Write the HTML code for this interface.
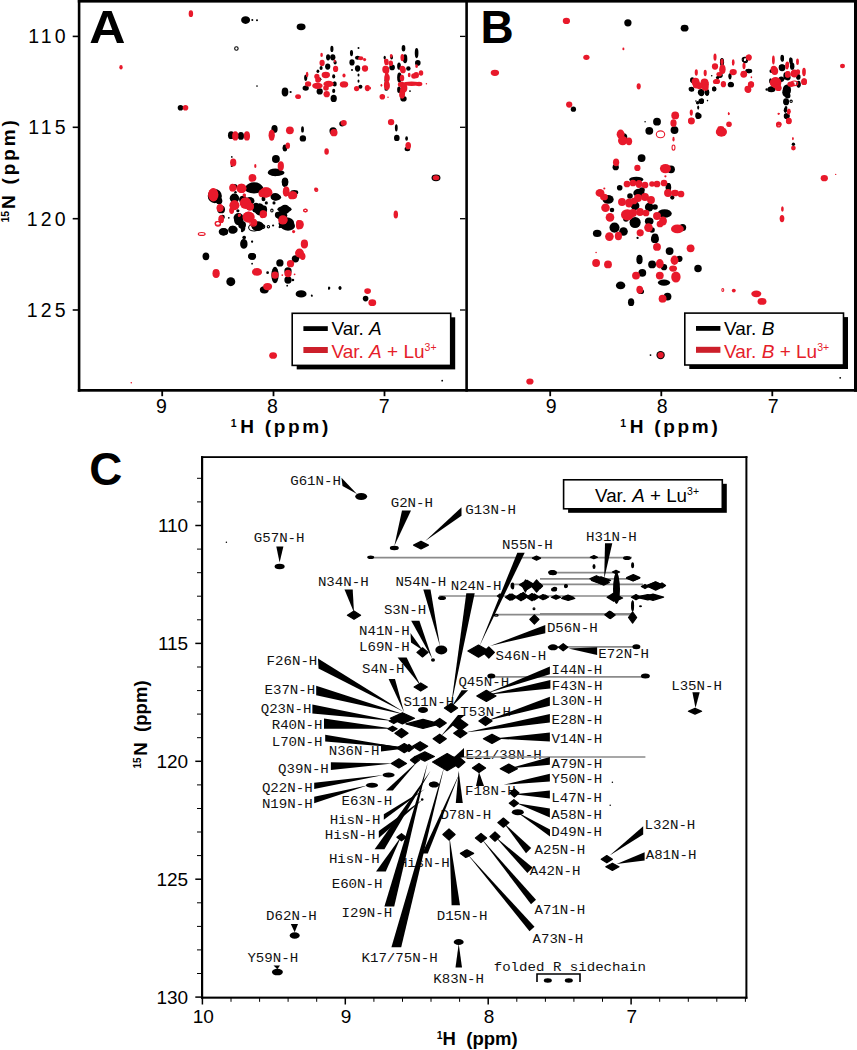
<!DOCTYPE html>
<html><head><meta charset="utf-8"><style>
html,body{margin:0;padding:0;background:#fff;}
body{width:857px;height:1050px;overflow:hidden;}
svg{display:block;}
</style></head><body>
<svg width="857" height="1050" viewBox="0 0 857 1050">
<rect width="857" height="1050" fill="#fff"/>
<rect x="77.8" y="0.0" width="779.2" height="2.6" fill="#000"/>
<rect x="77.8" y="0.0" width="2.6" height="391.7" fill="#000"/>
<rect x="77.8" y="389.0" width="779.2" height="2.7" fill="#000"/>
<rect x="465.3" y="0.0" width="2.6" height="391.7" fill="#000"/>
<rect x="854.0" y="0.0" width="3.0" height="391.7" fill="#000"/>
<line x1="72.7" y1="36.4" x2="78.5" y2="36.4" stroke="#000" stroke-width="1.6"/>
<line x1="460.0" y1="36.4" x2="465.5" y2="36.4" stroke="#000" stroke-width="1.3"/>
<line x1="72.7" y1="127.3" x2="78.5" y2="127.3" stroke="#000" stroke-width="1.6"/>
<line x1="460.0" y1="127.3" x2="465.5" y2="127.3" stroke="#000" stroke-width="1.3"/>
<line x1="72.7" y1="218.7" x2="78.5" y2="218.7" stroke="#000" stroke-width="1.6"/>
<line x1="460.0" y1="218.7" x2="465.5" y2="218.7" stroke="#000" stroke-width="1.3"/>
<line x1="72.7" y1="310.0" x2="78.5" y2="310.0" stroke="#000" stroke-width="1.6"/>
<line x1="460.0" y1="310.0" x2="465.5" y2="310.0" stroke="#000" stroke-width="1.3"/>
<line x1="162.2" y1="391.0" x2="162.2" y2="396.2" stroke="#000" stroke-width="1.8"/>
<line x1="273.5" y1="391.0" x2="273.5" y2="396.2" stroke="#000" stroke-width="1.8"/>
<line x1="384.5" y1="391.0" x2="384.5" y2="396.2" stroke="#000" stroke-width="1.8"/>
<line x1="550.2" y1="391.0" x2="550.2" y2="396.2" stroke="#000" stroke-width="1.8"/>
<line x1="661.3" y1="391.0" x2="661.3" y2="396.2" stroke="#000" stroke-width="1.8"/>
<line x1="772.3" y1="391.0" x2="772.3" y2="396.2" stroke="#000" stroke-width="1.8"/>
<text x="68.6" y="43.3" font-size="19.5" font-family="Liberation Sans" text-anchor="end" letter-spacing="3.1">110</text>
<text x="68.6" y="134.2" font-size="19.5" font-family="Liberation Sans" text-anchor="end" letter-spacing="3.1">115</text>
<text x="68.6" y="225.6" font-size="19.5" font-family="Liberation Sans" text-anchor="end" letter-spacing="3.1">120</text>
<text x="68.6" y="316.9" font-size="19.5" font-family="Liberation Sans" text-anchor="end" letter-spacing="3.1">125</text>
<text x="161.5" y="412.9" font-size="19.5" font-family="Liberation Sans" text-anchor="middle">9</text>
<text x="272.5" y="412.9" font-size="19.5" font-family="Liberation Sans" text-anchor="middle">8</text>
<text x="384.1" y="412.9" font-size="19.5" font-family="Liberation Sans" text-anchor="middle">7</text>
<text x="551.1" y="412.9" font-size="19.5" font-family="Liberation Sans" text-anchor="middle">9</text>
<text x="662.3" y="412.9" font-size="19.5" font-family="Liberation Sans" text-anchor="middle">8</text>
<text x="773.2" y="412.9" font-size="19.5" font-family="Liberation Sans" text-anchor="middle">7</text>
<text x="230.7" y="426.6" font-size="10.5" font-family="Liberation Sans" text-anchor="start" font-weight="bold">1</text>
<text x="240.3" y="432.7" font-size="19" font-family="Liberation Sans" text-anchor="start" font-weight="bold" letter-spacing="2.7">H (ppm)</text>
<text x="620.2" y="426.6" font-size="10.5" font-family="Liberation Sans" text-anchor="start" font-weight="bold">1</text>
<text x="629.8" y="432.7" font-size="19" font-family="Liberation Sans" text-anchor="start" font-weight="bold" letter-spacing="2.7">H (ppm)</text>
<g transform="translate(15.4,222.6) rotate(-90)">
<text x="0.0" y="-6.2" font-size="10.5" font-family="Liberation Sans" text-anchor="start" font-weight="bold">15</text>
<text x="13.5" y="0.0" font-size="19" font-family="Liberation Sans" text-anchor="start" font-weight="bold" letter-spacing="2.85">N (ppm)</text>
</g>
<text transform="translate(89.2,43.2) scale(1.09,1)" font-size="46" font-family="Liberation Sans" font-weight="bold">A</text>
<text x="480.5" y="43.0" font-size="46" font-family="Liberation Sans" text-anchor="start" font-weight="bold">B</text>
<rect x="296.7" y="317.3" width="158.5" height="52.1" fill="#000"/>
<rect x="292.2" y="313.3" width="158.5" height="52.1" fill="#fff" stroke="#000" stroke-width="1.6"/>
<rect x="303.4" y="326.2" width="24.4" height="4.8" fill="#000"/>
<rect x="303.4" y="347.0" width="24.4" height="6.0" fill="#cc1f2a"/>
<text x="331.4" y="335.3" font-size="19" font-family="Liberation Sans">Var. <tspan font-style="italic">A</tspan></text>
<text x="331.4" y="357.9" font-size="19" font-family="Liberation Sans" fill="#e5202a">Var. <tspan font-style="italic">A</tspan> + Lu<tspan font-size="10.5" dy="-6.8">3+</tspan></text>
<rect x="689.3" y="317.1" width="158.7" height="51.9" fill="#000"/>
<rect x="684.8" y="313.1" width="158.7" height="51.9" fill="#fff" stroke="#000" stroke-width="1.6"/>
<rect x="696.0" y="326.0" width="24.4" height="4.8" fill="#000"/>
<rect x="696.0" y="346.8" width="24.4" height="6.0" fill="#cc1f2a"/>
<text x="724.0" y="335.1" font-size="19" font-family="Liberation Sans">Var. <tspan font-style="italic">B</tspan></text>
<text x="724.0" y="357.7" font-size="19" font-family="Liberation Sans" fill="#e5202a">Var. <tspan font-style="italic">B</tspan> + Lu<tspan font-size="10.5" dy="-6.8">3+</tspan></text>
<rect x="201.0" y="456.2" width="2.2" height="542.5" fill="#000"/>
<rect x="201.0" y="456.2" width="546.4" height="1.8" fill="#000"/>
<rect x="745.4" y="456.2" width="2.0" height="542.5" fill="#000"/>
<rect x="201.0" y="996.6" width="546.4" height="2.1" fill="#000"/>
<line x1="197.0" y1="478.3" x2="201.5" y2="478.3" stroke="#000" stroke-width="1.0"/>
<line x1="197.0" y1="501.9" x2="201.5" y2="501.9" stroke="#000" stroke-width="1.0"/>
<line x1="195.3" y1="525.5" x2="201.5" y2="525.5" stroke="#000" stroke-width="1.5"/>
<line x1="197.0" y1="549.1" x2="201.5" y2="549.1" stroke="#000" stroke-width="1.0"/>
<line x1="197.0" y1="572.7" x2="201.5" y2="572.7" stroke="#000" stroke-width="1.0"/>
<line x1="197.0" y1="596.2" x2="201.5" y2="596.2" stroke="#000" stroke-width="1.0"/>
<line x1="197.0" y1="619.8" x2="201.5" y2="619.8" stroke="#000" stroke-width="1.0"/>
<line x1="195.3" y1="643.4" x2="201.5" y2="643.4" stroke="#000" stroke-width="1.5"/>
<line x1="197.0" y1="667.0" x2="201.5" y2="667.0" stroke="#000" stroke-width="1.0"/>
<line x1="197.0" y1="690.6" x2="201.5" y2="690.6" stroke="#000" stroke-width="1.0"/>
<line x1="197.0" y1="714.1" x2="201.5" y2="714.1" stroke="#000" stroke-width="1.0"/>
<line x1="197.0" y1="737.7" x2="201.5" y2="737.7" stroke="#000" stroke-width="1.0"/>
<line x1="195.3" y1="761.3" x2="201.5" y2="761.3" stroke="#000" stroke-width="1.5"/>
<line x1="197.0" y1="784.9" x2="201.5" y2="784.9" stroke="#000" stroke-width="1.0"/>
<line x1="197.0" y1="808.5" x2="201.5" y2="808.5" stroke="#000" stroke-width="1.0"/>
<line x1="197.0" y1="832.0" x2="201.5" y2="832.0" stroke="#000" stroke-width="1.0"/>
<line x1="197.0" y1="855.6" x2="201.5" y2="855.6" stroke="#000" stroke-width="1.0"/>
<line x1="195.3" y1="879.2" x2="201.5" y2="879.2" stroke="#000" stroke-width="1.5"/>
<line x1="197.0" y1="902.8" x2="201.5" y2="902.8" stroke="#000" stroke-width="1.0"/>
<line x1="197.0" y1="926.4" x2="201.5" y2="926.4" stroke="#000" stroke-width="1.0"/>
<line x1="197.0" y1="949.9" x2="201.5" y2="949.9" stroke="#000" stroke-width="1.0"/>
<line x1="197.0" y1="973.5" x2="201.5" y2="973.5" stroke="#000" stroke-width="1.0"/>
<line x1="195.3" y1="997.1" x2="201.5" y2="997.1" stroke="#000" stroke-width="1.5"/>
<text x="188.2" y="532.2" font-size="19" font-family="Liberation Sans" text-anchor="end">110</text>
<text x="188.2" y="650.1" font-size="19" font-family="Liberation Sans" text-anchor="end">115</text>
<text x="188.2" y="768.0" font-size="19" font-family="Liberation Sans" text-anchor="end">120</text>
<text x="188.2" y="885.9" font-size="19" font-family="Liberation Sans" text-anchor="end">125</text>
<text x="188.2" y="1003.8" font-size="19" font-family="Liberation Sans" text-anchor="end">130</text>
<line x1="202.4" y1="998.0" x2="202.4" y2="1004.5" stroke="#000" stroke-width="1.5"/>
<line x1="231.0" y1="998.0" x2="231.0" y2="1001.8" stroke="#000" stroke-width="1.0"/>
<line x1="259.6" y1="998.0" x2="259.6" y2="1001.8" stroke="#000" stroke-width="1.0"/>
<line x1="288.1" y1="998.0" x2="288.1" y2="1001.8" stroke="#000" stroke-width="1.0"/>
<line x1="316.7" y1="998.0" x2="316.7" y2="1001.8" stroke="#000" stroke-width="1.0"/>
<line x1="345.3" y1="998.0" x2="345.3" y2="1004.5" stroke="#000" stroke-width="1.5"/>
<line x1="373.9" y1="998.0" x2="373.9" y2="1001.8" stroke="#000" stroke-width="1.0"/>
<line x1="402.5" y1="998.0" x2="402.5" y2="1001.8" stroke="#000" stroke-width="1.0"/>
<line x1="431.0" y1="998.0" x2="431.0" y2="1001.8" stroke="#000" stroke-width="1.0"/>
<line x1="459.6" y1="998.0" x2="459.6" y2="1001.8" stroke="#000" stroke-width="1.0"/>
<line x1="488.2" y1="998.0" x2="488.2" y2="1004.5" stroke="#000" stroke-width="1.5"/>
<line x1="516.8" y1="998.0" x2="516.8" y2="1001.8" stroke="#000" stroke-width="1.0"/>
<line x1="545.4" y1="998.0" x2="545.4" y2="1001.8" stroke="#000" stroke-width="1.0"/>
<line x1="573.9" y1="998.0" x2="573.9" y2="1001.8" stroke="#000" stroke-width="1.0"/>
<line x1="602.5" y1="998.0" x2="602.5" y2="1001.8" stroke="#000" stroke-width="1.0"/>
<line x1="631.1" y1="998.0" x2="631.1" y2="1004.5" stroke="#000" stroke-width="1.5"/>
<line x1="659.7" y1="998.0" x2="659.7" y2="1001.8" stroke="#000" stroke-width="1.0"/>
<line x1="688.3" y1="998.0" x2="688.3" y2="1001.8" stroke="#000" stroke-width="1.0"/>
<line x1="716.8" y1="998.0" x2="716.8" y2="1001.8" stroke="#000" stroke-width="1.0"/>
<line x1="745.4" y1="998.0" x2="745.4" y2="1001.8" stroke="#000" stroke-width="1.0"/>
<text x="203.2" y="1022.5" font-size="19" font-family="Liberation Sans" text-anchor="middle">10</text>
<text x="346.1" y="1022.5" font-size="19" font-family="Liberation Sans" text-anchor="middle">9</text>
<text x="489.0" y="1022.5" font-size="19" font-family="Liberation Sans" text-anchor="middle">8</text>
<text x="631.9" y="1022.5" font-size="19" font-family="Liberation Sans" text-anchor="middle">7</text>
<text x="436.8" y="1038.7" font-size="10.5" font-family="Liberation Sans" text-anchor="start" font-weight="bold">1</text>
<text x="442.6" y="1045.1" font-size="18.5" font-family="Liberation Sans" text-anchor="start" font-weight="bold">H&#160;&#160;(ppm)</text>
<g transform="translate(147.2,768.5) rotate(-90)">
<text x="0.0" y="-6.5" font-size="10" font-family="Liberation Sans" text-anchor="start" font-weight="bold">15</text>
<text x="12.8" y="0.0" font-size="18.6" font-family="Liberation Sans" text-anchor="start" font-weight="bold">N&#160;&#160;(ppm)</text>
</g>
<text transform="translate(89.3,484.7) scale(1.04,1.03)" font-size="44" font-family="Liberation Sans" font-weight="bold">C</text>
<rect x="568.1" y="483.8" width="158.7" height="29.0" fill="#000"/>
<rect x="563.6" y="479.8" width="158.7" height="29.0" fill="#fff" stroke="#000" stroke-width="1.6"/>
<text x="595.0" y="501.8" font-size="18.8" font-family="Liberation Sans">Var. <tspan font-style="italic">A</tspan> + Lu<tspan font-size="10.5" dy="-6.6">3+</tspan></text>
<ellipse cx="245.6" cy="20.1" rx="4.48" ry="3.92" fill="#000"/>
<ellipse cx="252.3" cy="20" rx="1.01" ry="1.01" fill="#000"/>
<ellipse cx="257" cy="20.3" rx="1.01" ry="1.01" fill="#000"/>
<ellipse cx="301.1" cy="26.8" rx="4.48" ry="3.36" fill="#000"/>
<ellipse cx="257" cy="86" rx="0.84" ry="0.84" fill="#000"/>
<ellipse cx="285" cy="92" rx="3.36" ry="4.48" fill="#000"/>
<ellipse cx="290.6" cy="92" rx="1.12" ry="1.12" fill="#000"/>
<ellipse cx="180.5" cy="107.8" rx="2.80" ry="2.80" fill="#000"/>
<ellipse cx="331.9" cy="48.9" rx="1.57" ry="3.14" fill="#000"/>
<ellipse cx="328.1" cy="57.3" rx="2.07" ry="3.14" fill="#000"/>
<ellipse cx="332.8" cy="57.3" rx="2.63" ry="3.14" fill="#000"/>
<ellipse cx="335.1" cy="62.4" rx="1.57" ry="2.07" fill="#000"/>
<ellipse cx="327.7" cy="66.6" rx="2.63" ry="3.14" fill="#000"/>
<ellipse cx="321.1" cy="68" rx="1.57" ry="2.07" fill="#000"/>
<ellipse cx="317.9" cy="71.3" rx="1.40" ry="1.68" fill="#000"/>
<ellipse cx="333.7" cy="76.4" rx="1.57" ry="2.07" fill="#000"/>
<ellipse cx="305.7" cy="77.8" rx="1.57" ry="3.14" fill="#000"/>
<ellipse cx="318.8" cy="79.2" rx="2.63" ry="2.07" fill="#000"/>
<ellipse cx="334.7" cy="83.9" rx="2.07" ry="2.63" fill="#000"/>
<ellipse cx="305.7" cy="88.1" rx="3.14" ry="2.63" fill="#000"/>
<ellipse cx="319.7" cy="91.4" rx="3.14" ry="3.14" fill="#000"/>
<ellipse cx="333.7" cy="90.9" rx="1.57" ry="2.07" fill="#000"/>
<ellipse cx="333.7" cy="98.4" rx="3.14" ry="3.64" fill="#000"/>
<ellipse cx="351.5" cy="53.1" rx="1.57" ry="3.14" fill="#000"/>
<ellipse cx="358.5" cy="47.9" rx="1.01" ry="1.01" fill="#000"/>
<ellipse cx="352" cy="62.4" rx="2.63" ry="3.14" fill="#000"/>
<ellipse cx="357.6" cy="57.7" rx="2.63" ry="2.07" fill="#000"/>
<ellipse cx="357.6" cy="68.5" rx="2.63" ry="3.14" fill="#000"/>
<ellipse cx="352" cy="69.9" rx="1.01" ry="1.01" fill="#000"/>
<ellipse cx="358.5" cy="75" rx="1.01" ry="1.57" fill="#000"/>
<ellipse cx="358.5" cy="81.1" rx="1.01" ry="1.57" fill="#000"/>
<ellipse cx="360.4" cy="86.7" rx="2.07" ry="2.07" fill="#000"/>
<ellipse cx="403.5" cy="48.2" rx="1.85" ry="3.19" fill="#000"/>
<ellipse cx="416.6" cy="53.1" rx="1.85" ry="5.04" fill="#000"/>
<ellipse cx="405.1" cy="58.8" rx="2.24" ry="4.48" fill="#000"/>
<ellipse cx="384.7" cy="57.6" rx="1.12" ry="1.85" fill="#000"/>
<ellipse cx="391.6" cy="57.2" rx="1.40" ry="2.24" fill="#000"/>
<ellipse cx="417.8" cy="62.9" rx="2.80" ry="2.80" fill="#000"/>
<ellipse cx="392.1" cy="67.4" rx="2.80" ry="2.80" fill="#000"/>
<ellipse cx="399" cy="66.1" rx="1.85" ry="3.64" fill="#000"/>
<ellipse cx="408.4" cy="68.6" rx="2.24" ry="2.24" fill="#000"/>
<ellipse cx="399.4" cy="77.6" rx="2.24" ry="5.04" fill="#000"/>
<ellipse cx="386.3" cy="80.4" rx="1.85" ry="2.80" fill="#000"/>
<ellipse cx="399" cy="89.8" rx="1.85" ry="3.19" fill="#000"/>
<ellipse cx="410" cy="91.1" rx="0.90" ry="0.90" fill="#000"/>
<ellipse cx="403.5" cy="98.8" rx="3.19" ry="2.80" fill="#000"/>
<ellipse cx="386.3" cy="89" rx="1.85" ry="1.85" fill="#000"/>
<ellipse cx="231.1" cy="135.2" rx="3.14" ry="3.92" fill="#000"/>
<ellipse cx="240.9" cy="135.9" rx="3.14" ry="3.92" fill="#000"/>
<ellipse cx="274.5" cy="128.9" rx="3.14" ry="3.92" fill="#000"/>
<ellipse cx="285" cy="147.8" rx="2.24" ry="3.36" fill="#000"/>
<ellipse cx="231.8" cy="156.9" rx="0.84" ry="0.84" fill="#000"/>
<ellipse cx="275.9" cy="159" rx="3.92" ry="3.92" fill="#000"/>
<ellipse cx="275.2" cy="172.3" rx="7.06" ry="3.92" fill="#000"/>
<ellipse cx="231.8" cy="166" rx="1.12" ry="1.12" fill="#000"/>
<ellipse cx="285" cy="182.1" rx="3.14" ry="4.70" fill="#000"/>
<ellipse cx="254.2" cy="187" rx="7.84" ry="4.70" fill="#000"/>
<ellipse cx="234.6" cy="196.8" rx="3.14" ry="3.14" fill="#000"/>
<ellipse cx="233.9" cy="187.7" rx="2.24" ry="2.80" fill="#000"/>
<ellipse cx="234.6" cy="198.2" rx="3.92" ry="3.92" fill="#000"/>
<ellipse cx="243" cy="199.6" rx="3.92" ry="3.92" fill="#000"/>
<ellipse cx="275.2" cy="196.8" rx="4.70" ry="3.92" fill="#000"/>
<ellipse cx="219.2" cy="201" rx="3.14" ry="3.14" fill="#000"/>
<ellipse cx="255.6" cy="208" rx="3.92" ry="4.70" fill="#000"/>
<ellipse cx="264" cy="209.4" rx="3.14" ry="3.92" fill="#000"/>
<ellipse cx="285" cy="209.4" rx="4.70" ry="4.70" fill="#000"/>
<ellipse cx="278" cy="215" rx="3.14" ry="3.14" fill="#000"/>
<ellipse cx="238.8" cy="220.6" rx="4.70" ry="4.70" fill="#000"/>
<ellipse cx="243" cy="228.3" rx="2.24" ry="3.14" fill="#000"/>
<ellipse cx="257.7" cy="226.2" rx="6.16" ry="4.70" fill="#000"/>
<ellipse cx="223.4" cy="231.8" rx="4.70" ry="3.92" fill="#000"/>
<ellipse cx="232.5" cy="229.7" rx="3.92" ry="3.92" fill="#000"/>
<ellipse cx="286.4" cy="223.4" rx="7.84" ry="6.16" fill="#000"/>
<ellipse cx="273.1" cy="225.5" rx="1.12" ry="1.12" fill="#000"/>
<ellipse cx="280.1" cy="226.9" rx="1.12" ry="1.12" fill="#000"/>
<ellipse cx="244.4" cy="237.4" rx="1.57" ry="1.57" fill="#000"/>
<ellipse cx="243.7" cy="243.7" rx="3.14" ry="4.70" fill="#000"/>
<ellipse cx="252.1" cy="241.6" rx="1.12" ry="1.12" fill="#000"/>
<ellipse cx="284.3" cy="183.5" rx="2.24" ry="3.14" fill="#000"/>
<ellipse cx="205.9" cy="256.3" rx="3.36" ry="3.92" fill="#000"/>
<ellipse cx="297.6" cy="257" rx="2.24" ry="2.24" fill="#000"/>
<ellipse cx="243.9" cy="244.1" rx="3.64" ry="4.48" fill="#000"/>
<ellipse cx="252.1" cy="256.3" rx="3.92" ry="3.36" fill="#000"/>
<ellipse cx="252.1" cy="241.6" rx="0.90" ry="0.90" fill="#000"/>
<ellipse cx="252.1" cy="263.7" rx="0.90" ry="0.90" fill="#000"/>
<ellipse cx="279.9" cy="262.9" rx="3.64" ry="3.64" fill="#000"/>
<ellipse cx="295.4" cy="258.8" rx="3.64" ry="3.64" fill="#000"/>
<ellipse cx="275" cy="275.1" rx="3.64" ry="8.23" fill="#000"/>
<ellipse cx="288" cy="271" rx="3.64" ry="3.64" fill="#000"/>
<ellipse cx="288" cy="280" rx="3.64" ry="3.64" fill="#000"/>
<ellipse cx="230.8" cy="281.7" rx="4.48" ry="4.48" fill="#000"/>
<ellipse cx="264.3" cy="289.8" rx="4.48" ry="3.64" fill="#000"/>
<ellipse cx="301.1" cy="293.9" rx="5.49" ry="3.64" fill="#000"/>
<ellipse cx="267.6" cy="272.7" rx="1.34" ry="1.34" fill="#000"/>
<ellipse cx="292.9" cy="280" rx="1.34" ry="1.34" fill="#000"/>
<ellipse cx="287.2" cy="285.7" rx="0.90" ry="0.90" fill="#000"/>
<ellipse cx="311.7" cy="295.5" rx="0.90" ry="0.90" fill="#000"/>
<ellipse cx="328.9" cy="288.2" rx="0.90" ry="1.68" fill="#000"/>
<ellipse cx="276.1" cy="172.8" rx="8.40" ry="3.14" fill="#000"/>
<ellipse cx="285.2" cy="181.9" rx="3.14" ry="3.92" fill="#000"/>
<ellipse cx="294.3" cy="192.4" rx="3.92" ry="2.35" fill="#000"/>
<ellipse cx="276.1" cy="197.3" rx="5.04" ry="3.14" fill="#000"/>
<ellipse cx="266.3" cy="202.9" rx="1.57" ry="1.57" fill="#000"/>
<ellipse cx="274" cy="202.9" rx="1.57" ry="1.57" fill="#000"/>
<ellipse cx="284.5" cy="209.2" rx="7.06" ry="3.14" fill="#000"/>
<ellipse cx="263.5" cy="209.2" rx="1.68" ry="1.68" fill="#000"/>
<ellipse cx="281.7" cy="215.5" rx="5.60" ry="4.70" fill="#000"/>
<ellipse cx="288" cy="226" rx="7.06" ry="4.70" fill="#000"/>
<ellipse cx="279.6" cy="227.1" rx="1.12" ry="1.12" fill="#000"/>
<ellipse cx="302.5" cy="129.4" rx="1.40" ry="3.19" fill="#000"/>
<ellipse cx="302.9" cy="138.4" rx="3.19" ry="3.19" fill="#000"/>
<ellipse cx="284.9" cy="148.2" rx="2.24" ry="3.08" fill="#000"/>
<ellipse cx="342.1" cy="123.7" rx="2.80" ry="2.80" fill="#000"/>
<ellipse cx="333.1" cy="131" rx="3.64" ry="3.64" fill="#000"/>
<ellipse cx="396.3" cy="127.8" rx="1.40" ry="3.64" fill="#000"/>
<ellipse cx="396.8" cy="137.9" rx="2.80" ry="3.19" fill="#000"/>
<ellipse cx="406.6" cy="138.4" rx="1.40" ry="2.24" fill="#000"/>
<ellipse cx="407.4" cy="149" rx="2.80" ry="2.24" fill="#000"/>
<ellipse cx="284.9" cy="181.7" rx="3.19" ry="3.64" fill="#000"/>
<ellipse cx="295.7" cy="258.8" rx="2.80" ry="2.80" fill="#000"/>
<ellipse cx="340" cy="288" rx="1.40" ry="1.68" fill="#000"/>
<ellipse cx="329.4" cy="288" rx="0.90" ry="1.34" fill="#000"/>
<ellipse cx="312" cy="296" rx="0.78" ry="0.78" fill="#000"/>
<ellipse cx="365.6" cy="298.6" rx="2.80" ry="2.80" fill="#000"/>
<ellipse cx="442.2" cy="380.7" rx="0.90" ry="0.90" fill="#000"/>
<ellipse cx="436" cy="177.8" rx="4.48" ry="3.36" fill="#000"/>
<ellipse cx="214.8" cy="196.1" rx="7.06" ry="7.06" fill="#000"/>
<ellipse cx="219" cy="201" rx="3.14" ry="3.14" fill="#000"/>
<ellipse cx="221.1" cy="209.4" rx="3.92" ry="3.92" fill="#000"/>
<ellipse cx="234.4" cy="198.2" rx="4.70" ry="4.70" fill="#000"/>
<ellipse cx="249.8" cy="201" rx="4.70" ry="3.92" fill="#000"/>
<ellipse cx="254" cy="188.4" rx="9.41" ry="5.04" fill="#000"/>
<ellipse cx="234.4" cy="186.3" rx="2.80" ry="2.35" fill="#000"/>
<ellipse cx="238.6" cy="217.8" rx="5.04" ry="4.70" fill="#000"/>
<ellipse cx="242.1" cy="224.8" rx="3.92" ry="3.92" fill="#000"/>
<ellipse cx="223.9" cy="231.8" rx="4.31" ry="3.53" fill="#000"/>
<ellipse cx="233" cy="229.7" rx="4.70" ry="3.92" fill="#000"/>
<ellipse cx="259.6" cy="209.4" rx="5.04" ry="6.16" fill="#000"/>
<ellipse cx="237.9" cy="210.8" rx="1.57" ry="1.57" fill="#000"/>
<ellipse cx="222.5" cy="217.1" rx="2.35" ry="2.35" fill="#000"/>
<ellipse cx="228.8" cy="217.8" rx="0.84" ry="0.84" fill="#000"/>
<ellipse cx="243.9" cy="237.4" rx="1.57" ry="1.57" fill="#000"/>
<ellipse cx="242.1" cy="231.1" rx="1.23" ry="1.23" fill="#000"/>
<ellipse cx="235.5" cy="192.3" rx="1.23" ry="1.23" fill="#000"/>
<ellipse cx="263.5" cy="198.9" rx="1.96" ry="2.35" fill="#000"/>
<ellipse cx="236.4" cy="48.5" rx="1.74" ry="1.74" fill="none" stroke="#000" stroke-width="1.1"/>
<ellipse cx="257.7" cy="226.2" rx="5.66" ry="4.20" fill="none" stroke="#000" stroke-width="1.1"/>
<ellipse cx="271.9" cy="210.6" rx="1.18" ry="1.46" fill="none" stroke="#000" stroke-width="1.1"/>
<ellipse cx="262.1" cy="226.7" rx="2.64" ry="1.85" fill="none" stroke="#000" stroke-width="1.1"/>
<ellipse cx="268.4" cy="226.7" rx="1.18" ry="1.18" fill="none" stroke="#000" stroke-width="1.1"/>
<ellipse cx="252.1" cy="256.3" rx="3.42" ry="2.86" fill="none" stroke="#000" stroke-width="1.1"/>
<ellipse cx="340" cy="288" rx="0.90" ry="1.18" fill="none" stroke="#000" stroke-width="1.1"/>
<ellipse cx="254" cy="227.6" rx="5.38" ry="3.42" fill="none" stroke="#000" stroke-width="1.1"/>
<ellipse cx="256.1" cy="205.2" rx="1.85" ry="1.85" fill="none" stroke="#000" stroke-width="1.1"/>
<ellipse cx="627.9" cy="22.8" rx="3.64" ry="3.64" fill="#000"/>
<ellipse cx="684.6" cy="28.2" rx="3.92" ry="3.36" fill="#000"/>
<ellipse cx="573.4" cy="109.2" rx="2.63" ry="2.63" fill="#000"/>
<ellipse cx="722" cy="62.3" rx="2.07" ry="4.20" fill="#000"/>
<ellipse cx="749.1" cy="71.1" rx="3.14" ry="2.07" fill="#000"/>
<ellipse cx="730" cy="76.3" rx="1.57" ry="3.14" fill="#000"/>
<ellipse cx="730.9" cy="84.7" rx="3.14" ry="2.63" fill="#000"/>
<ellipse cx="720.1" cy="75.3" rx="2.63" ry="2.63" fill="#000"/>
<ellipse cx="692.1" cy="81" rx="1.57" ry="2.07" fill="#000"/>
<ellipse cx="691.7" cy="89.8" rx="2.63" ry="2.07" fill="#000"/>
<ellipse cx="701.5" cy="93.1" rx="2.63" ry="3.14" fill="#000"/>
<ellipse cx="707.1" cy="92.6" rx="2.07" ry="3.14" fill="#000"/>
<ellipse cx="714.1" cy="88.9" rx="2.07" ry="2.63" fill="#000"/>
<ellipse cx="702" cy="101" rx="2.07" ry="2.63" fill="#000"/>
<ellipse cx="695.9" cy="101" rx="0.78" ry="0.78" fill="#000"/>
<ellipse cx="707.5" cy="100.6" rx="0.78" ry="0.78" fill="#000"/>
<ellipse cx="698.2" cy="107.6" rx="1.01" ry="2.07" fill="#000"/>
<ellipse cx="698.2" cy="114.1" rx="2.07" ry="1.12" fill="#000"/>
<ellipse cx="711.7" cy="75.8" rx="0.78" ry="0.78" fill="#000"/>
<ellipse cx="782.4" cy="58.5" rx="1.62" ry="3.19" fill="#000"/>
<ellipse cx="790.5" cy="60.1" rx="1.40" ry="2.80" fill="#000"/>
<ellipse cx="782" cy="67.1" rx="3.19" ry="2.80" fill="#000"/>
<ellipse cx="792.2" cy="66.2" rx="2.24" ry="3.64" fill="#000"/>
<ellipse cx="771.3" cy="71.1" rx="1.85" ry="1.85" fill="#000"/>
<ellipse cx="785.2" cy="76" rx="1.85" ry="3.64" fill="#000"/>
<ellipse cx="798.3" cy="76.9" rx="2.24" ry="2.80" fill="#000"/>
<ellipse cx="770.5" cy="81" rx="1.40" ry="2.80" fill="#000"/>
<ellipse cx="771.3" cy="89.5" rx="4.14" ry="2.80" fill="#000"/>
<ellipse cx="766.4" cy="89.5" rx="0.90" ry="1.34" fill="#000"/>
<ellipse cx="786.9" cy="90" rx="4.14" ry="5.60" fill="#000"/>
<ellipse cx="787.7" cy="95.7" rx="2.80" ry="2.80" fill="#000"/>
<ellipse cx="786" cy="101.4" rx="2.80" ry="3.19" fill="#000"/>
<ellipse cx="786" cy="107.9" rx="1.40" ry="1.85" fill="#000"/>
<ellipse cx="786" cy="116.1" rx="2.24" ry="2.80" fill="#000"/>
<ellipse cx="798.7" cy="85" rx="1.85" ry="2.80" fill="#000"/>
<ellipse cx="657" cy="121.7" rx="3.92" ry="3.92" fill="#000"/>
<ellipse cx="649.3" cy="130.8" rx="3.92" ry="3.92" fill="#000"/>
<ellipse cx="674.5" cy="130.1" rx="3.92" ry="3.92" fill="#000"/>
<ellipse cx="645.1" cy="121.7" rx="0.78" ry="0.78" fill="#000"/>
<ellipse cx="623.4" cy="137.1" rx="3.92" ry="3.92" fill="#000"/>
<ellipse cx="641.6" cy="158.1" rx="3.92" ry="3.92" fill="#000"/>
<ellipse cx="615.7" cy="167.2" rx="3.14" ry="3.14" fill="#000"/>
<ellipse cx="671" cy="169.3" rx="3.92" ry="3.92" fill="#000"/>
<ellipse cx="637.4" cy="179.8" rx="3.92" ry="2.35" fill="#000"/>
<ellipse cx="668.2" cy="185.4" rx="2.35" ry="2.35" fill="#000"/>
<ellipse cx="697.6" cy="115.4" rx="2.35" ry="3.14" fill="#000"/>
<ellipse cx="697.6" cy="102.8" rx="1.68" ry="1.68" fill="#000"/>
<ellipse cx="636.3" cy="179.5" rx="7.17" ry="2.80" fill="#000"/>
<ellipse cx="619.7" cy="187.8" rx="2.80" ry="2.80" fill="#000"/>
<ellipse cx="668.4" cy="187.2" rx="2.80" ry="4.31" fill="#000"/>
<ellipse cx="638.9" cy="193" rx="5.60" ry="4.31" fill="#000"/>
<ellipse cx="608.1" cy="199.4" rx="5.60" ry="4.31" fill="#000"/>
<ellipse cx="649.2" cy="207.1" rx="4.31" ry="4.31" fill="#000"/>
<ellipse cx="635.1" cy="205.8" rx="4.31" ry="4.31" fill="#000"/>
<ellipse cx="664.6" cy="213.5" rx="7.17" ry="4.31" fill="#000"/>
<ellipse cx="635.1" cy="222.5" rx="5.60" ry="5.60" fill="#000"/>
<ellipse cx="649.2" cy="221.2" rx="4.31" ry="3.58" fill="#000"/>
<ellipse cx="614.5" cy="227.6" rx="5.04" ry="5.04" fill="#000"/>
<ellipse cx="623.5" cy="231.5" rx="4.31" ry="4.31" fill="#000"/>
<ellipse cx="597.2" cy="233.4" rx="4.31" ry="3.58" fill="#000"/>
<ellipse cx="655" cy="237.9" rx="3.58" ry="4.31" fill="#000"/>
<ellipse cx="682.6" cy="227.6" rx="3.58" ry="3.58" fill="#000"/>
<ellipse cx="672.3" cy="197.5" rx="2.13" ry="2.13" fill="#000"/>
<ellipse cx="637.6" cy="237.9" rx="1.06" ry="1.06" fill="#000"/>
<ellipse cx="654.9" cy="239.2" rx="3.92" ry="3.92" fill="#000"/>
<ellipse cx="669.6" cy="251.1" rx="3.92" ry="3.92" fill="#000"/>
<ellipse cx="639.5" cy="259.5" rx="3.14" ry="4.70" fill="#000"/>
<ellipse cx="652.1" cy="264.4" rx="3.92" ry="3.92" fill="#000"/>
<ellipse cx="664" cy="267.2" rx="3.14" ry="3.14" fill="#000"/>
<ellipse cx="679.4" cy="258.8" rx="3.14" ry="3.14" fill="#000"/>
<ellipse cx="642.3" cy="272.8" rx="3.92" ry="3.92" fill="#000"/>
<ellipse cx="620.6" cy="285.4" rx="4.70" ry="3.92" fill="#000"/>
<ellipse cx="664" cy="282.6" rx="6.16" ry="3.14" fill="#000"/>
<ellipse cx="667.5" cy="296.6" rx="3.92" ry="3.92" fill="#000"/>
<ellipse cx="631.1" cy="302.2" rx="3.14" ry="3.92" fill="#000"/>
<ellipse cx="697.6" cy="268.6" rx="2.35" ry="3.14" fill="#000"/>
<ellipse cx="640.9" cy="291.7" rx="3.14" ry="2.35" fill="#000"/>
<ellipse cx="637.4" cy="237.8" rx="0.78" ry="0.78" fill="#000"/>
<ellipse cx="698" cy="116.7" rx="2.35" ry="2.35" fill="#000"/>
<ellipse cx="786.8" cy="116.7" rx="2.35" ry="2.35" fill="#000"/>
<ellipse cx="793.4" cy="144.3" rx="1.68" ry="1.68" fill="#000"/>
<ellipse cx="698" cy="268.5" rx="3.75" ry="3.75" fill="#000"/>
<ellipse cx="650.5" cy="355.1" rx="0.90" ry="0.90" fill="#000"/>
<ellipse cx="660.6" cy="355.1" rx="4.20" ry="4.20" fill="#000"/>
<ellipse cx="840.2" cy="377.8" rx="0.90" ry="0.90" fill="#000"/>
<ellipse cx="721.7" cy="61.2" rx="1.40" ry="2.80" fill="#000"/>
<ellipse cx="717.6" cy="77.6" rx="1.68" ry="1.68" fill="#000"/>
<ellipse cx="730.7" cy="84.1" rx="2.24" ry="2.24" fill="#000"/>
<ellipse cx="729.8" cy="76" rx="1.12" ry="2.24" fill="#000"/>
<ellipse cx="714.3" cy="89" rx="2.24" ry="2.24" fill="#000"/>
<ellipse cx="692.3" cy="80" rx="2.24" ry="2.80" fill="#000"/>
<ellipse cx="691.4" cy="89" rx="2.80" ry="2.24" fill="#000"/>
<ellipse cx="701.2" cy="92.3" rx="3.36" ry="3.36" fill="#000"/>
<ellipse cx="707" cy="92.3" rx="2.24" ry="3.36" fill="#000"/>
<ellipse cx="704.5" cy="84.1" rx="2.24" ry="2.24" fill="#000"/>
<ellipse cx="701.2" cy="101.3" rx="2.80" ry="2.80" fill="#000"/>
<ellipse cx="698.8" cy="116" rx="2.80" ry="2.80" fill="#000"/>
<ellipse cx="748.6" cy="71" rx="3.36" ry="2.24" fill="#000"/>
<ellipse cx="782.1" cy="58" rx="1.68" ry="3.36" fill="#000"/>
<ellipse cx="782.1" cy="67.8" rx="3.36" ry="3.36" fill="#000"/>
<ellipse cx="791.1" cy="61.2" rx="1.68" ry="3.36" fill="#000"/>
<ellipse cx="771.5" cy="89" rx="3.36" ry="2.80" fill="#000"/>
<ellipse cx="786.2" cy="92.3" rx="3.92" ry="5.04" fill="#000"/>
<ellipse cx="786.2" cy="102" rx="2.80" ry="3.36" fill="#000"/>
<ellipse cx="798.5" cy="84.1" rx="2.24" ry="3.36" fill="#000"/>
<ellipse cx="787.8" cy="77.6" rx="2.80" ry="2.80" fill="#000"/>
<ellipse cx="781.3" cy="79.2" rx="2.80" ry="2.80" fill="#000"/>
<ellipse cx="787" cy="116" rx="2.80" ry="2.80" fill="#000"/>
<ellipse cx="785.4" cy="110.3" rx="1.68" ry="2.80" fill="#000"/>
<ellipse cx="642" cy="190" rx="2.80" ry="2.80" fill="#000"/>
<ellipse cx="630" cy="196" rx="2.80" ry="2.80" fill="#000"/>
<ellipse cx="655" cy="207" rx="2.80" ry="2.80" fill="#000"/>
<ellipse cx="626" cy="219" rx="2.80" ry="2.80" fill="#000"/>
<ellipse cx="652" cy="230" rx="2.80" ry="2.80" fill="#000"/>
<ellipse cx="612" cy="210" rx="2.24" ry="2.24" fill="#000"/>
<ellipse cx="745.4" cy="60" rx="2.13" ry="2.64" fill="none" stroke="#000" stroke-width="1.1"/>
<ellipse cx="744.5" cy="59.6" rx="2.30" ry="2.30" fill="none" stroke="#000" stroke-width="1.1"/>
<ellipse cx="791.1" cy="101.3" rx="1.18" ry="1.18" fill="none" stroke="#000" stroke-width="1.1"/>
<ellipse cx="190.9" cy="13.7" rx="2.24" ry="3.36" fill="#e8192b"/>
<ellipse cx="298" cy="96.6" rx="2.80" ry="2.24" fill="#e8192b"/>
<ellipse cx="121" cy="67.2" rx="1.68" ry="2.24" fill="#e8192b"/>
<ellipse cx="185.5" cy="107.8" rx="2.80" ry="2.80" fill="#e8192b"/>
<ellipse cx="321.6" cy="54.9" rx="1.29" ry="2.07" fill="#e8192b"/>
<ellipse cx="322.1" cy="62.9" rx="2.63" ry="3.14" fill="#e8192b"/>
<ellipse cx="335.6" cy="68.9" rx="2.63" ry="3.14" fill="#e8192b"/>
<ellipse cx="334.7" cy="61" rx="1.01" ry="1.57" fill="#e8192b"/>
<ellipse cx="307.1" cy="74.5" rx="1.29" ry="2.63" fill="#e8192b"/>
<ellipse cx="316.9" cy="76.4" rx="2.63" ry="2.63" fill="#e8192b"/>
<ellipse cx="325.8" cy="75" rx="4.20" ry="3.14" fill="#e8192b"/>
<ellipse cx="344" cy="75.5" rx="1.57" ry="2.07" fill="#e8192b"/>
<ellipse cx="308.1" cy="83.9" rx="3.14" ry="2.63" fill="#e8192b"/>
<ellipse cx="317.4" cy="85.8" rx="5.21" ry="3.14" fill="#e8192b"/>
<ellipse cx="328.6" cy="83.9" rx="5.21" ry="3.14" fill="#e8192b"/>
<ellipse cx="344" cy="84.4" rx="4.20" ry="3.14" fill="#e8192b"/>
<ellipse cx="326.7" cy="94.2" rx="3.14" ry="3.14" fill="#e8192b"/>
<ellipse cx="298.3" cy="97" rx="2.63" ry="2.07" fill="#e8192b"/>
<ellipse cx="360.8" cy="58.2" rx="2.63" ry="2.07" fill="#e8192b"/>
<ellipse cx="364.6" cy="59.6" rx="1.57" ry="1.57" fill="#e8192b"/>
<ellipse cx="365" cy="68.5" rx="3.14" ry="3.14" fill="#e8192b"/>
<ellipse cx="356.6" cy="88.6" rx="2.63" ry="2.63" fill="#e8192b"/>
<ellipse cx="367.4" cy="88.1" rx="2.63" ry="3.14" fill="#e8192b"/>
<ellipse cx="391.2" cy="55.9" rx="1.40" ry="1.85" fill="#e8192b"/>
<ellipse cx="385.1" cy="60.8" rx="1.12" ry="1.85" fill="#e8192b"/>
<ellipse cx="390.8" cy="63.3" rx="2.24" ry="2.80" fill="#e8192b"/>
<ellipse cx="402.3" cy="57.6" rx="1.85" ry="3.64" fill="#e8192b"/>
<ellipse cx="416.6" cy="66.1" rx="1.40" ry="1.85" fill="#e8192b"/>
<ellipse cx="385.1" cy="69.4" rx="2.80" ry="3.64" fill="#e8192b"/>
<ellipse cx="402.3" cy="68.6" rx="2.80" ry="2.80" fill="#e8192b"/>
<ellipse cx="409.2" cy="75.1" rx="1.40" ry="2.24" fill="#e8192b"/>
<ellipse cx="416.2" cy="75.1" rx="2.80" ry="3.19" fill="#e8192b"/>
<ellipse cx="386.7" cy="75.1" rx="1.85" ry="2.80" fill="#e8192b"/>
<ellipse cx="386.7" cy="84.9" rx="2.80" ry="4.48" fill="#e8192b"/>
<ellipse cx="381.4" cy="85.3" rx="0.90" ry="1.34" fill="#e8192b"/>
<ellipse cx="401.5" cy="84.5" rx="3.64" ry="2.80" fill="#e8192b"/>
<ellipse cx="411.7" cy="83.7" rx="8.96" ry="2.24" fill="#e8192b"/>
<ellipse cx="426.4" cy="83.7" rx="0.73" ry="0.73" fill="#e8192b"/>
<ellipse cx="382.3" cy="96.8" rx="2.80" ry="2.80" fill="#e8192b"/>
<ellipse cx="388" cy="97.2" rx="0.73" ry="0.73" fill="#e8192b"/>
<ellipse cx="402.3" cy="93.1" rx="2.80" ry="5.49" fill="#e8192b"/>
<ellipse cx="370.4" cy="88.2" rx="0.56" ry="1.40" fill="#e8192b"/>
<ellipse cx="235.3" cy="135.9" rx="3.14" ry="4.70" fill="#e8192b"/>
<ellipse cx="246.9" cy="135.9" rx="3.14" ry="4.70" fill="#e8192b"/>
<ellipse cx="271.7" cy="135.2" rx="3.14" ry="5.60" fill="#e8192b"/>
<ellipse cx="289.9" cy="130.3" rx="3.92" ry="3.92" fill="#e8192b"/>
<ellipse cx="287.8" cy="145.7" rx="2.24" ry="3.14" fill="#e8192b"/>
<ellipse cx="233.2" cy="162.5" rx="3.14" ry="3.92" fill="#e8192b"/>
<ellipse cx="255.3" cy="166" rx="1.12" ry="1.96" fill="#e8192b"/>
<ellipse cx="280.8" cy="166" rx="3.14" ry="4.70" fill="#e8192b"/>
<ellipse cx="252.5" cy="177.9" rx="3.92" ry="3.92" fill="#e8192b"/>
<ellipse cx="232.5" cy="187.7" rx="3.14" ry="3.92" fill="#e8192b"/>
<ellipse cx="241.6" cy="188.4" rx="4.70" ry="4.70" fill="#e8192b"/>
<ellipse cx="265.4" cy="192.6" rx="5.60" ry="5.04" fill="#e8192b"/>
<ellipse cx="286.4" cy="191.2" rx="3.14" ry="4.70" fill="#e8192b"/>
<ellipse cx="292" cy="195.4" rx="3.92" ry="3.92" fill="#e8192b"/>
<ellipse cx="212.9" cy="194.7" rx="4.70" ry="6.16" fill="#e8192b"/>
<ellipse cx="244.4" cy="195.4" rx="1.57" ry="1.57" fill="#e8192b"/>
<ellipse cx="219.9" cy="208" rx="3.14" ry="3.92" fill="#e8192b"/>
<ellipse cx="234.6" cy="205.2" rx="3.92" ry="4.70" fill="#e8192b"/>
<ellipse cx="244.4" cy="202.4" rx="3.92" ry="4.70" fill="#e8192b"/>
<ellipse cx="250" cy="206.6" rx="3.92" ry="3.92" fill="#e8192b"/>
<ellipse cx="231.8" cy="210.1" rx="2.35" ry="3.14" fill="#e8192b"/>
<ellipse cx="248.6" cy="217.1" rx="6.16" ry="5.60" fill="#e8192b"/>
<ellipse cx="253.5" cy="222.7" rx="3.14" ry="3.14" fill="#e8192b"/>
<ellipse cx="221.3" cy="219.2" rx="2.35" ry="3.92" fill="#e8192b"/>
<ellipse cx="282.9" cy="219.9" rx="4.70" ry="4.70" fill="#e8192b"/>
<ellipse cx="298.3" cy="224.8" rx="2.35" ry="4.70" fill="#e8192b"/>
<ellipse cx="239.5" cy="215" rx="1.57" ry="1.57" fill="#e8192b"/>
<ellipse cx="266.3" cy="192.4" rx="6.16" ry="5.04" fill="#e8192b"/>
<ellipse cx="285.9" cy="191.7" rx="3.14" ry="5.04" fill="#e8192b"/>
<ellipse cx="292.9" cy="195.2" rx="4.31" ry="3.92" fill="#e8192b"/>
<ellipse cx="263.5" cy="214.1" rx="3.53" ry="3.92" fill="#e8192b"/>
<ellipse cx="283.1" cy="220.1" rx="4.31" ry="3.53" fill="#e8192b"/>
<ellipse cx="299.9" cy="224.6" rx="3.92" ry="4.70" fill="#e8192b"/>
<ellipse cx="293.6" cy="231.6" rx="1.57" ry="1.57" fill="#e8192b"/>
<ellipse cx="304.4" cy="244.1" rx="3.64" ry="4.48" fill="#e8192b"/>
<ellipse cx="299.5" cy="253.1" rx="4.48" ry="4.48" fill="#e8192b"/>
<ellipse cx="302.7" cy="256.3" rx="2.80" ry="3.64" fill="#e8192b"/>
<ellipse cx="290.5" cy="263.7" rx="3.64" ry="3.64" fill="#e8192b"/>
<ellipse cx="216.1" cy="273.5" rx="3.64" ry="4.48" fill="#e8192b"/>
<ellipse cx="257" cy="271.9" rx="5.04" ry="3.92" fill="#e8192b"/>
<ellipse cx="275" cy="275.1" rx="3.64" ry="3.64" fill="#e8192b"/>
<ellipse cx="288" cy="273.5" rx="3.64" ry="3.64" fill="#e8192b"/>
<ellipse cx="267.6" cy="286.6" rx="4.48" ry="3.64" fill="#e8192b"/>
<ellipse cx="282.3" cy="275.1" rx="0.90" ry="0.90" fill="#e8192b"/>
<ellipse cx="294.6" cy="274.3" rx="0.90" ry="0.90" fill="#e8192b"/>
<ellipse cx="343.7" cy="122.9" rx="3.08" ry="2.80" fill="#e8192b"/>
<ellipse cx="333.9" cy="132.7" rx="3.64" ry="3.64" fill="#e8192b"/>
<ellipse cx="326.6" cy="151.5" rx="2.24" ry="3.19" fill="#e8192b"/>
<ellipse cx="391.1" cy="122.1" rx="3.19" ry="3.19" fill="#e8192b"/>
<ellipse cx="408.2" cy="145.7" rx="2.80" ry="3.64" fill="#e8192b"/>
<ellipse cx="315.9" cy="189" rx="1.68" ry="1.40" fill="#e8192b"/>
<ellipse cx="299.8" cy="224.7" rx="2.80" ry="3.64" fill="#e8192b"/>
<ellipse cx="304.3" cy="243.9" rx="2.80" ry="3.19" fill="#e8192b"/>
<ellipse cx="299.2" cy="251.7" rx="2.80" ry="2.80" fill="#e8192b"/>
<ellipse cx="301.2" cy="255.8" rx="2.80" ry="2.80" fill="#e8192b"/>
<ellipse cx="291" cy="264" rx="1.68" ry="2.24" fill="#e8192b"/>
<ellipse cx="367.6" cy="291.1" rx="3.36" ry="2.80" fill="#e8192b"/>
<ellipse cx="372.3" cy="302.7" rx="3.92" ry="3.36" fill="#e8192b"/>
<ellipse cx="395.8" cy="214.5" rx="2.24" ry="3.92" fill="#e8192b"/>
<ellipse cx="436" cy="177.8" rx="3.36" ry="2.52" fill="#e8192b"/>
<ellipse cx="273.1" cy="355.5" rx="3.92" ry="3.36" fill="#e8192b"/>
<ellipse cx="131.3" cy="382.8" rx="0.78" ry="0.78" fill="#e8192b"/>
<ellipse cx="213.4" cy="194.7" rx="5.04" ry="6.72" fill="#e8192b"/>
<ellipse cx="220.1" cy="208" rx="3.53" ry="3.53" fill="#e8192b"/>
<ellipse cx="233" cy="187.7" rx="3.53" ry="3.53" fill="#e8192b"/>
<ellipse cx="241.4" cy="188.4" rx="5.04" ry="4.70" fill="#e8192b"/>
<ellipse cx="234.4" cy="205.2" rx="5.04" ry="5.04" fill="#e8192b"/>
<ellipse cx="245.6" cy="203.1" rx="5.88" ry="5.88" fill="#e8192b"/>
<ellipse cx="249.8" cy="206.6" rx="3.92" ry="3.92" fill="#e8192b"/>
<ellipse cx="231.6" cy="210.8" rx="2.35" ry="3.14" fill="#e8192b"/>
<ellipse cx="244.2" cy="194.7" rx="1.57" ry="1.18" fill="#e8192b"/>
<ellipse cx="248.4" cy="216.4" rx="5.04" ry="4.70" fill="#e8192b"/>
<ellipse cx="262.4" cy="214.3" rx="2.80" ry="3.92" fill="#e8192b"/>
<ellipse cx="221.1" cy="219.2" rx="2.80" ry="3.92" fill="#e8192b"/>
<ellipse cx="261.7" cy="193.3" rx="3.14" ry="3.92" fill="#e8192b"/>
<ellipse cx="239" cy="215.4" rx="1.18" ry="1.57" fill="#e8192b"/>
<ellipse cx="386.5" cy="62" rx="2.24" ry="3.36" fill="#e8192b"/>
<ellipse cx="386.5" cy="70" rx="2.80" ry="3.92" fill="#e8192b"/>
<ellipse cx="387" cy="78" rx="2.80" ry="3.92" fill="#e8192b"/>
<ellipse cx="387" cy="86" rx="2.80" ry="3.92" fill="#e8192b"/>
<ellipse cx="403" cy="70" rx="2.80" ry="3.36" fill="#e8192b"/>
<ellipse cx="402" cy="78" rx="2.24" ry="3.36" fill="#e8192b"/>
<ellipse cx="404" cy="88" rx="3.36" ry="4.48" fill="#e8192b"/>
<ellipse cx="402" cy="95" rx="2.80" ry="3.36" fill="#e8192b"/>
<ellipse cx="414" cy="76" rx="2.80" ry="2.80" fill="#e8192b"/>
<ellipse cx="419" cy="84" rx="3.36" ry="2.24" fill="#e8192b"/>
<ellipse cx="421" cy="73" rx="2.24" ry="2.80" fill="#e8192b"/>
<ellipse cx="318" cy="80" rx="2.80" ry="2.80" fill="#e8192b"/>
<ellipse cx="326" cy="88" rx="2.80" ry="2.80" fill="#e8192b"/>
<ellipse cx="316.4" cy="190" rx="1.46" ry="1.46" fill="none" stroke="#e8192b" stroke-width="1.1"/>
<ellipse cx="305.5" cy="210.6" rx="1.74" ry="1.46" fill="none" stroke="#e8192b" stroke-width="1.1"/>
<ellipse cx="263.3" cy="214.3" rx="2.64" ry="2.64" fill="none" stroke="#e8192b" stroke-width="1.1"/>
<ellipse cx="217.8" cy="223.4" rx="2.64" ry="1.85" fill="none" stroke="#e8192b" stroke-width="1.1"/>
<ellipse cx="201.7" cy="233.9" rx="3.42" ry="1.46" fill="none" stroke="#e8192b" stroke-width="1.1"/>
<ellipse cx="316.1" cy="189.8" rx="1.18" ry="1.18" fill="none" stroke="#e8192b" stroke-width="1.1"/>
<ellipse cx="305.3" cy="210.4" rx="1.74" ry="1.18" fill="none" stroke="#e8192b" stroke-width="1.1"/>
<ellipse cx="253.3" cy="222.7" rx="3.42" ry="3.42" fill="none" stroke="#e8192b" stroke-width="1.1"/>
<ellipse cx="218" cy="223.8" rx="2.64" ry="2.30" fill="none" stroke="#e8192b" stroke-width="1.1"/>
<ellipse cx="566.4" cy="20.9" rx="3.64" ry="3.14" fill="#e8192b"/>
<ellipse cx="623.4" cy="48.9" rx="1.01" ry="1.34" fill="#e8192b"/>
<ellipse cx="586.4" cy="57.3" rx="3.14" ry="2.63" fill="#e8192b"/>
<ellipse cx="494.9" cy="72.8" rx="4.20" ry="3.14" fill="#e8192b"/>
<ellipse cx="638.7" cy="86.3" rx="2.07" ry="3.14" fill="#e8192b"/>
<ellipse cx="569.2" cy="104.6" rx="3.14" ry="3.14" fill="#e8192b"/>
<ellipse cx="842.5" cy="66" rx="2.52" ry="2.24" fill="#e8192b"/>
<ellipse cx="715" cy="57.1" rx="1.57" ry="3.64" fill="#e8192b"/>
<ellipse cx="715" cy="66.5" rx="3.14" ry="3.14" fill="#e8192b"/>
<ellipse cx="722" cy="61.8" rx="1.57" ry="3.14" fill="#e8192b"/>
<ellipse cx="722.5" cy="69.3" rx="3.14" ry="4.70" fill="#e8192b"/>
<ellipse cx="733.2" cy="62.3" rx="1.29" ry="3.14" fill="#e8192b"/>
<ellipse cx="733.2" cy="72.1" rx="3.64" ry="3.14" fill="#e8192b"/>
<ellipse cx="696.3" cy="72.5" rx="1.57" ry="3.14" fill="#e8192b"/>
<ellipse cx="705.2" cy="73" rx="1.57" ry="3.14" fill="#e8192b"/>
<ellipse cx="696.3" cy="84.2" rx="3.64" ry="4.20" fill="#e8192b"/>
<ellipse cx="705.2" cy="84.2" rx="3.64" ry="4.20" fill="#e8192b"/>
<ellipse cx="716.9" cy="81.4" rx="3.14" ry="2.63" fill="#e8192b"/>
<ellipse cx="723.4" cy="84.2" rx="2.63" ry="3.14" fill="#e8192b"/>
<ellipse cx="749.1" cy="57.6" rx="2.63" ry="3.14" fill="#e8192b"/>
<ellipse cx="744" cy="66" rx="1.57" ry="3.14" fill="#e8192b"/>
<ellipse cx="744" cy="73.9" rx="3.14" ry="3.14" fill="#e8192b"/>
<ellipse cx="751" cy="84.7" rx="3.14" ry="3.14" fill="#e8192b"/>
<ellipse cx="748.2" cy="89.8" rx="3.14" ry="3.14" fill="#e8192b"/>
<ellipse cx="691.2" cy="112.2" rx="1.01" ry="2.07" fill="#e8192b"/>
<ellipse cx="728.6" cy="113.6" rx="0.78" ry="1.57" fill="#e8192b"/>
<ellipse cx="751.4" cy="77.2" rx="0.78" ry="1.01" fill="#e8192b"/>
<ellipse cx="773.4" cy="60.1" rx="1.40" ry="4.48" fill="#e8192b"/>
<ellipse cx="797.5" cy="61.7" rx="1.40" ry="3.19" fill="#e8192b"/>
<ellipse cx="804" cy="72" rx="1.85" ry="4.14" fill="#e8192b"/>
<ellipse cx="804" cy="81.8" rx="2.80" ry="3.19" fill="#e8192b"/>
<ellipse cx="787.3" cy="64.6" rx="1.85" ry="3.19" fill="#e8192b"/>
<ellipse cx="773.8" cy="69.5" rx="3.19" ry="3.64" fill="#e8192b"/>
<ellipse cx="787.7" cy="74.4" rx="2.80" ry="3.19" fill="#e8192b"/>
<ellipse cx="793.4" cy="73.6" rx="2.80" ry="3.19" fill="#e8192b"/>
<ellipse cx="797.9" cy="72" rx="2.24" ry="2.80" fill="#e8192b"/>
<ellipse cx="775.8" cy="82.6" rx="5.60" ry="5.60" fill="#e8192b"/>
<ellipse cx="778.7" cy="88.3" rx="2.80" ry="2.80" fill="#e8192b"/>
<ellipse cx="791" cy="84.2" rx="3.64" ry="2.80" fill="#e8192b"/>
<ellipse cx="788.9" cy="111.2" rx="1.85" ry="2.80" fill="#e8192b"/>
<ellipse cx="788.9" cy="121" rx="2.80" ry="3.19" fill="#e8192b"/>
<ellipse cx="778.7" cy="123.4" rx="2.24" ry="1.85" fill="#e8192b"/>
<ellipse cx="779.1" cy="113.6" rx="0.67" ry="0.67" fill="#e8192b"/>
<ellipse cx="675.2" cy="115.4" rx="3.92" ry="3.92" fill="#e8192b"/>
<ellipse cx="673.5" cy="123.1" rx="3.14" ry="3.92" fill="#e8192b"/>
<ellipse cx="673.5" cy="139.2" rx="1.12" ry="2.35" fill="#e8192b"/>
<ellipse cx="691.3" cy="112.6" rx="1.57" ry="3.14" fill="#e8192b"/>
<ellipse cx="691.3" cy="121" rx="3.14" ry="3.14" fill="#e8192b"/>
<ellipse cx="620.6" cy="134.3" rx="3.92" ry="4.70" fill="#e8192b"/>
<ellipse cx="622.7" cy="140.6" rx="4.70" ry="4.70" fill="#e8192b"/>
<ellipse cx="629" cy="141.3" rx="3.14" ry="3.92" fill="#e8192b"/>
<ellipse cx="616.1" cy="162.3" rx="3.14" ry="3.92" fill="#e8192b"/>
<ellipse cx="637.4" cy="167.9" rx="3.14" ry="3.14" fill="#e8192b"/>
<ellipse cx="665.4" cy="168.6" rx="5.49" ry="4.70" fill="#e8192b"/>
<ellipse cx="665.4" cy="176.3" rx="1.12" ry="1.12" fill="#e8192b"/>
<ellipse cx="605.5" cy="207.7" rx="4.31" ry="4.31" fill="#e8192b"/>
<ellipse cx="627.4" cy="214.8" rx="6.44" ry="5.60" fill="#e8192b"/>
<ellipse cx="610" cy="217.4" rx="4.31" ry="4.31" fill="#e8192b"/>
<ellipse cx="648.5" cy="227.6" rx="4.31" ry="4.31" fill="#e8192b"/>
<ellipse cx="640.2" cy="232.8" rx="3.58" ry="3.58" fill="#e8192b"/>
<ellipse cx="609.4" cy="236.6" rx="4.31" ry="4.31" fill="#e8192b"/>
<ellipse cx="618.4" cy="236" rx="3.58" ry="4.31" fill="#e8192b"/>
<ellipse cx="677.4" cy="228.9" rx="6.44" ry="4.31" fill="#e8192b"/>
<ellipse cx="604.3" cy="188.5" rx="1.06" ry="1.06" fill="#e8192b"/>
<ellipse cx="657" cy="246.9" rx="3.92" ry="3.92" fill="#e8192b"/>
<ellipse cx="690.6" cy="248.3" rx="3.92" ry="3.92" fill="#e8192b"/>
<ellipse cx="596.1" cy="263" rx="3.92" ry="3.92" fill="#e8192b"/>
<ellipse cx="608" cy="264.4" rx="3.92" ry="3.92" fill="#e8192b"/>
<ellipse cx="636" cy="275.6" rx="3.92" ry="3.92" fill="#e8192b"/>
<ellipse cx="659.8" cy="263.7" rx="3.92" ry="4.70" fill="#e8192b"/>
<ellipse cx="674.5" cy="260.2" rx="3.92" ry="4.70" fill="#e8192b"/>
<ellipse cx="673.1" cy="268.6" rx="3.92" ry="3.14" fill="#e8192b"/>
<ellipse cx="659.8" cy="275.6" rx="3.92" ry="3.92" fill="#e8192b"/>
<ellipse cx="675.9" cy="277" rx="4.70" ry="5.60" fill="#e8192b"/>
<ellipse cx="639.5" cy="289.6" rx="3.14" ry="3.92" fill="#e8192b"/>
<ellipse cx="662.6" cy="298.7" rx="3.92" ry="3.92" fill="#e8192b"/>
<ellipse cx="596.1" cy="252.5" rx="0.78" ry="0.78" fill="#e8192b"/>
<ellipse cx="729" cy="113.8" rx="0.78" ry="1.12" fill="#e8192b"/>
<ellipse cx="729" cy="124.9" rx="1.96" ry="1.96" fill="#e8192b"/>
<ellipse cx="721.4" cy="131.9" rx="5.60" ry="4.76" fill="#e8192b"/>
<ellipse cx="788.7" cy="121.4" rx="2.35" ry="2.35" fill="#e8192b"/>
<ellipse cx="792.9" cy="138.6" rx="0.90" ry="1.68" fill="#e8192b"/>
<ellipse cx="793.4" cy="148.1" rx="2.35" ry="2.35" fill="#e8192b"/>
<ellipse cx="824.3" cy="178.2" rx="3.64" ry="3.08" fill="#e8192b"/>
<ellipse cx="835.7" cy="174.4" rx="0.67" ry="0.67" fill="#e8192b"/>
<ellipse cx="782.4" cy="209" rx="1.34" ry="2.80" fill="#e8192b"/>
<ellipse cx="782" cy="218.6" rx="2.35" ry="3.64" fill="#e8192b"/>
<ellipse cx="691.5" cy="248.1" rx="1.96" ry="3.36" fill="#e8192b"/>
<ellipse cx="733.8" cy="290.6" rx="1.96" ry="1.96" fill="#e8192b"/>
<ellipse cx="756.3" cy="293.8" rx="5.04" ry="3.36" fill="#e8192b"/>
<ellipse cx="762" cy="301.4" rx="4.48" ry="3.36" fill="#e8192b"/>
<ellipse cx="660.6" cy="355.1" rx="3.14" ry="3.14" fill="#e8192b"/>
<ellipse cx="529.9" cy="381.5" rx="3.64" ry="3.08" fill="#e8192b"/>
<ellipse cx="640" cy="289.8" rx="3.14" ry="3.64" fill="#e8192b"/>
<ellipse cx="662.2" cy="299.1" rx="3.36" ry="3.14" fill="#e8192b"/>
<ellipse cx="721.7" cy="70.2" rx="2.24" ry="3.36" fill="#e8192b"/>
<ellipse cx="719.2" cy="74.3" rx="2.80" ry="2.24" fill="#e8192b"/>
<ellipse cx="723.3" cy="84.1" rx="2.24" ry="2.24" fill="#e8192b"/>
<ellipse cx="733.1" cy="62.9" rx="1.12" ry="2.52" fill="#e8192b"/>
<ellipse cx="733.9" cy="71.9" rx="2.24" ry="1.68" fill="#e8192b"/>
<ellipse cx="715.1" cy="81.7" rx="2.24" ry="2.24" fill="#e8192b"/>
<ellipse cx="695.5" cy="81.7" rx="3.92" ry="3.92" fill="#e8192b"/>
<ellipse cx="704.5" cy="82.5" rx="3.92" ry="3.92" fill="#e8192b"/>
<ellipse cx="699.6" cy="85.8" rx="3.36" ry="3.36" fill="#e8192b"/>
<ellipse cx="705.3" cy="87.4" rx="3.36" ry="3.36" fill="#e8192b"/>
<ellipse cx="691.4" cy="120.9" rx="3.36" ry="3.36" fill="#e8192b"/>
<ellipse cx="748.6" cy="57.2" rx="2.80" ry="2.80" fill="#e8192b"/>
<ellipse cx="743.7" cy="74.3" rx="3.36" ry="3.36" fill="#e8192b"/>
<ellipse cx="751.1" cy="84.1" rx="2.80" ry="2.80" fill="#e8192b"/>
<ellipse cx="747.8" cy="89" rx="3.36" ry="3.36" fill="#e8192b"/>
<ellipse cx="729" cy="124.2" rx="2.80" ry="2.80" fill="#e8192b"/>
<ellipse cx="720.8" cy="128.2" rx="3.36" ry="2.24" fill="#e8192b"/>
<ellipse cx="774.8" cy="71" rx="3.36" ry="3.92" fill="#e8192b"/>
<ellipse cx="787" cy="66.1" rx="1.68" ry="3.36" fill="#e8192b"/>
<ellipse cx="794.4" cy="73.5" rx="3.36" ry="3.92" fill="#e8192b"/>
<ellipse cx="787.8" cy="74.3" rx="2.80" ry="3.36" fill="#e8192b"/>
<ellipse cx="774.8" cy="82.5" rx="5.04" ry="5.04" fill="#e8192b"/>
<ellipse cx="778" cy="87.4" rx="3.36" ry="3.36" fill="#e8192b"/>
<ellipse cx="804.2" cy="81.7" rx="2.80" ry="3.36" fill="#e8192b"/>
<ellipse cx="788.7" cy="120.9" rx="2.80" ry="2.80" fill="#e8192b"/>
<ellipse cx="788.7" cy="111.9" rx="1.68" ry="2.80" fill="#e8192b"/>
<ellipse cx="627" cy="184" rx="3.36" ry="3.36" fill="#e8192b"/>
<ellipse cx="633" cy="183" rx="3.36" ry="3.36" fill="#e8192b"/>
<ellipse cx="639" cy="184" rx="3.36" ry="3.92" fill="#e8192b"/>
<ellipse cx="645" cy="185" rx="3.36" ry="3.36" fill="#e8192b"/>
<ellipse cx="652" cy="184" rx="2.80" ry="2.80" fill="#e8192b"/>
<ellipse cx="638" cy="198" rx="3.92" ry="3.92" fill="#e8192b"/>
<ellipse cx="645" cy="197" rx="3.92" ry="3.92" fill="#e8192b"/>
<ellipse cx="651" cy="200" rx="3.92" ry="3.92" fill="#e8192b"/>
<ellipse cx="622" cy="202" rx="3.92" ry="3.92" fill="#e8192b"/>
<ellipse cx="629" cy="203" rx="3.92" ry="4.48" fill="#e8192b"/>
<ellipse cx="634" cy="201" rx="3.36" ry="3.36" fill="#e8192b"/>
<ellipse cx="633" cy="213" rx="3.92" ry="3.92" fill="#e8192b"/>
<ellipse cx="640" cy="212" rx="3.92" ry="3.92" fill="#e8192b"/>
<ellipse cx="646" cy="213" rx="3.36" ry="3.36" fill="#e8192b"/>
<ellipse cx="657" cy="216" rx="3.92" ry="3.92" fill="#e8192b"/>
<ellipse cx="663" cy="221" rx="3.92" ry="4.48" fill="#e8192b"/>
<ellipse cx="660" cy="224" rx="3.36" ry="3.36" fill="#e8192b"/>
<ellipse cx="668" cy="193" rx="3.92" ry="3.92" fill="#e8192b"/>
<ellipse cx="675" cy="193" rx="3.92" ry="3.36" fill="#e8192b"/>
<ellipse cx="681" cy="194" rx="3.36" ry="3.36" fill="#e8192b"/>
<ellipse cx="600" cy="193" rx="4.48" ry="3.92" fill="#e8192b"/>
<ellipse cx="604" cy="197" rx="3.92" ry="3.36" fill="#e8192b"/>
<ellipse cx="657" cy="184" rx="3.36" ry="3.36" fill="#e8192b"/>
<ellipse cx="664" cy="183" rx="3.36" ry="3.36" fill="#e8192b"/>
<ellipse cx="660.5" cy="134.3" rx="4.20" ry="3.42" fill="none" stroke="#e8192b" stroke-width="1.1"/>
<ellipse cx="673.5" cy="147.6" rx="1.46" ry="2.64" fill="none" stroke="#e8192b" stroke-width="1.1"/>
<ellipse cx="778.6" cy="124.9" rx="2.02" ry="2.02" fill="none" stroke="#e8192b" stroke-width="1.1"/>
<ellipse cx="722.8" cy="290" rx="0.96" ry="1.46" fill="none" stroke="#e8192b" stroke-width="1.1"/>
<ellipse cx="778.6" cy="113.8" rx="0.60" ry="0.60" fill="none" stroke="#e8192b" stroke-width="1.1"/>
<ellipse cx="794.4" cy="83.3" rx="3.42" ry="2.30" fill="none" stroke="#e8192b" stroke-width="1.1"/>
<ellipse cx="778.9" cy="124.2" rx="2.30" ry="1.74" fill="none" stroke="#e8192b" stroke-width="1.1"/>
<g font-family="Liberation Mono" font-size="14.1" fill="#111">
<text transform="translate(290.2,485.2) scale(1,0.87)">G61N-H</text>
<text transform="translate(390.7,506.8) scale(1,0.87)">G2N-H</text>
<text transform="translate(465.2,513.7) scale(1,0.87)">G13N-H</text>
<text transform="translate(253.8,542.2) scale(1,0.87)">G57N-H</text>
<text transform="translate(502.0,549.2) scale(1,0.87)">N55N-H</text>
<text transform="translate(586.1,541.1) scale(1,0.87)">H31N-H</text>
<text transform="translate(317.9,585.9) scale(1,0.87)">N34N-H</text>
<text transform="translate(395.4,585.9) scale(1,0.87)">N54N-H</text>
<text transform="translate(450.7,589.5) scale(1,0.87)">N24N-H</text>
<text transform="translate(383.9,613.9) scale(1,0.87)">S3N-H</text>
<text transform="translate(359.0,634.5) scale(1,0.87)">N41N-H</text>
<text transform="translate(359.0,651.4) scale(1,0.87)">L69N-H</text>
<text transform="translate(546.9,631.9) scale(1,0.87)">D56N-H</text>
<text transform="translate(266.6,665.3) scale(1,0.87)">F26N-H</text>
<text transform="translate(362.1,673.0) scale(1,0.87)">S4N-H</text>
<text transform="translate(495.6,659.6) scale(1,0.87)">S46N-H</text>
<text transform="translate(598.3,658.3) scale(1,0.87)">E72N-H</text>
<text transform="translate(551.6,673.7) scale(1,0.87)">I44N-H</text>
<text transform="translate(458.4,686.1) scale(1,0.87)">Q45N-H</text>
<text transform="translate(551.8,690.0) scale(1,0.87)">F43N-H</text>
<text transform="translate(671.2,690.3) scale(1,0.87)">L35N-H</text>
<text transform="translate(264.5,693.6) scale(1,0.87)">E37N-H</text>
<text transform="translate(403.4,705.6) scale(1,0.87)">S11N-H</text>
<text transform="translate(551.5,705.2) scale(1,0.87)">L30N-H</text>
<text transform="translate(260.7,712.5) scale(1,0.87)">Q23N-H</text>
<text transform="translate(460.3,715.5) scale(1,0.87)">T53N-H</text>
<text transform="translate(551.5,724.0) scale(1,0.87)">E28N-H</text>
<text transform="translate(271.7,728.8) scale(1,0.87)">R40N-H</text>
<text transform="translate(551.5,743.3) scale(1,0.87)">V14N-H</text>
<text transform="translate(271.7,745.7) scale(1,0.87)">L70N-H</text>
<text transform="translate(328.7,755.2) scale(1,0.87)">N36N-H</text>
<text transform="translate(465.5,758.7) scale(1,0.87)">E21/38N-H</text>
<text transform="translate(551.5,767.7) scale(1,0.87)">A79N-H</text>
<text transform="translate(278.1,772.8) scale(1,0.87)">Q39N-H</text>
<text transform="translate(551.5,783.1) scale(1,0.87)">Y50N-H</text>
<text transform="translate(261.9,792.1) scale(1,0.87)">Q22N-H</text>
<text transform="translate(465.1,795.0) scale(1,0.87)">F18N-H</text>
<text transform="translate(551.3,801.7) scale(1,0.87)">L47N-H</text>
<text transform="translate(341.5,805.3) scale(1,0.87)">E63N-H</text>
<text transform="translate(261.9,807.5) scale(1,0.87)">N19N-H</text>
<text transform="translate(551.3,818.5) scale(1,0.87)">A58N-H</text>
<text transform="translate(440.4,818.8) scale(1,0.87)">D78N-H</text>
<text transform="translate(329.7,823.5) scale(1,0.87)">HisN-H</text>
<text transform="translate(644.6,829.3) scale(1,0.87)">L32N-H</text>
<text transform="translate(551.3,836.1) scale(1,0.87)">D49N-H</text>
<text transform="translate(324.7,838.9) scale(1,0.87)">HisN-H</text>
<text transform="translate(534.5,853.7) scale(1,0.87)">A25N-H</text>
<text transform="translate(645.7,859.3) scale(1,0.87)">A81N-H</text>
<text transform="translate(328.9,862.7) scale(1,0.87)">HisN-H</text>
<text transform="translate(398.9,866.9) scale(1,0.87)">HisN-H</text>
<text transform="translate(529.7,874.7) scale(1,0.87)">A42N-H</text>
<text transform="translate(331.7,887.9) scale(1,0.87)">E60N-H</text>
<text transform="translate(534.5,913.9) scale(1,0.87)">A71N-H</text>
<text transform="translate(341.5,917.3) scale(1,0.87)">I29N-H</text>
<text transform="translate(266.1,920.3) scale(1,0.87)">D62N-H</text>
<text transform="translate(436.7,920.1) scale(1,0.87)">D15N-H</text>
<text transform="translate(532.5,943.3) scale(1,0.87)">A73N-H</text>
<text transform="translate(247.4,962.2) scale(1,0.87)">Y59N-H</text>
<text transform="translate(361.5,962.2) scale(1,0.87)">K17/75N-H</text>
<text transform="translate(433.3,983.4) scale(1,0.87)">K83N-H</text>
<text transform="translate(493.7,970.8) scale(1,0.87)">folded R sidechain</text>
</g>
<g fill="none" stroke="#8a8a8a" stroke-width="1.7">
<line x1="370.7" y1="557.7" x2="632.0" y2="557.7"/>
<line x1="552.0" y1="572.7" x2="616.0" y2="572.7"/>
<line x1="540.0" y1="578.8" x2="633.0" y2="578.8"/>
<line x1="512.0" y1="584.3" x2="643.0" y2="584.3"/>
<line x1="439.2" y1="596.0" x2="657.6" y2="596.0"/>
<line x1="493.4" y1="614.7" x2="633.0" y2="614.7"/>
<line x1="547.8" y1="646.8" x2="637.7" y2="646.8"/>
<line x1="491.3" y1="676.8" x2="645.4" y2="676.8"/>
<line x1="452.0" y1="757.0" x2="645.4" y2="757.0"/>
<line x1="540.0" y1="613.8" x2="633.0" y2="613.8"/>
</g>
<g fill="#000">
<polygon points="341.5,477.8 342.5,486.0 357.0,494.0"/>
<polygon points="402.0,510.5 411.0,510.5 394.3,546.0"/>
<polygon points="461.5,507.3 461.5,515.7 425.2,541.0"/>
<polygon points="276.3,546.4 283.4,546.4 279.6,562.5"/>
<polygon points="517.3,552.7 524.7,552.7 479.3,646.4"/>
<polygon points="605.0,543.3 612.3,543.3 604.2,578.8"/>
<polygon points="344.5,589.5 352.7,589.5 354.0,612.6"/>
<polygon points="423.3,589.5 430.5,589.5 440.1,646.4"/>
<polygon points="466.3,593.2 474.7,593.2 451.0,706.0"/>
<polygon points="411.2,620.8 419.4,620.8 432.3,658.8"/>
<polygon points="410.5,633.0 411.0,642.5 423.0,650.5"/>
<polygon points="397.6,657.6 406.6,657.6 420.7,685.8"/>
<polygon points="545.3,625.0 545.3,633.2 490.0,646.0"/>
<polygon points="318.0,658.5 318.5,668.5 404.0,712.0"/>
<polygon points="388.6,678.9 395.0,678.9 404.0,712.0"/>
<polygon points="316.2,685.8 316.2,695.3 405.3,714.7"/>
<polygon points="312.4,704.4 312.4,713.4 393.8,721.0"/>
<polygon points="324.0,718.5 324.0,728.8 393.8,728.8"/>
<polygon points="325.2,734.7 325.2,741.6 404.0,748.0"/>
<polygon points="381.0,744.2 381.0,751.4 409.2,748.0"/>
<polygon points="330.9,762.2 330.9,769.9 392.5,763.4"/>
<polygon points="314.2,782.7 314.2,789.1 383.5,775.0"/>
<polygon points="314.2,796.8 314.2,803.2 368.0,785.3"/>
<polygon points="385.8,790.4 392.8,790.4 418.0,761.0"/>
<polygon points="383.8,814.2 383.8,819.8 425.0,789.0"/>
<polygon points="378.8,831.0 378.8,838.0 423.6,798.8"/>
<polygon points="374.6,849.2 384.4,849.2 430.6,770.8"/>
<polygon points="376.0,871.6 385.8,871.6 401.2,836.6"/>
<polygon points="384.4,906.6 394.2,906.6 427.8,762.4"/>
<polygon points="391.4,947.2 401.2,947.2 444.6,765.2"/>
<polygon points="422.2,853.4 427.8,853.4 460.0,772.2"/>
<polygon points="455.8,803.0 462.8,803.0 458.6,770.8"/>
<polygon points="451.6,905.2 460.0,905.2 449.4,836.6"/>
<polygon points="531.2,848.0 526.0,853.2 503.4,822.6"/>
<polygon points="532.6,867.5 527.4,872.9 495.0,836.6"/>
<polygon points="536.0,899.8 531.0,904.2 480.0,837.0"/>
<polygon points="534.5,926.8 529.5,931.2 466.0,852.5"/>
<polygon points="550.0,829.6 550.0,836.6 516.0,811.4"/>
<polygon points="549.9,808.4 549.9,817.4 516.5,803.2"/>
<polygon points="549.9,790.4 549.9,798.6 513.9,794.2"/>
<polygon points="549.9,773.7 549.9,781.4 503.6,784.7"/>
<polygon points="549.9,757.0 549.9,764.7 508.8,768.6"/>
<polygon points="549.9,732.6 549.9,741.6 493.4,738.5"/>
<polygon points="549.9,713.9 549.9,722.4 465.1,732.6"/>
<polygon points="549.9,696.7 549.9,705.7 485.7,721.0"/>
<polygon points="550.4,680.0 550.4,688.4 487.5,694.8"/>
<polygon points="549.9,666.5 549.9,674.2 486.2,693.5"/>
<polygon points="597.1,647.3 597.1,655.0 568.4,648.6"/>
<polygon points="461.6,690.3 468.1,690.3 451.5,707.0"/>
<polygon points="458.0,715.0 465.0,715.0 441.0,736.0"/>
<polygon points="464.0,748.0 464.0,757.0 452.0,759.0"/>
<polygon points="476.0,786.0 484.0,786.0 479.0,772.0"/>
<polygon points="455.5,967.6 462.0,967.6 458.7,943.7"/>
<polygon points="290.8,924.1 298.0,924.1 294.7,932.3"/>
<polygon points="273.5,965.6 280.0,965.6 277.4,969.2"/>
<polygon points="692.4,692.3 699.7,692.3 695.5,708.1"/>
<polygon points="643.2,826.2 643.2,834.6 609.6,855.6"/>
<polygon points="644.6,852.2 644.6,860.6 616.6,864.0"/>
<ellipse cx="361.2" cy="496.5" rx="6.0" ry="3.5"/>
<ellipse cx="394.3" cy="548.0" rx="4.5" ry="2.25"/>
<polygon stroke="#000" stroke-width="1.2" stroke-linejoin="round" points="413.6,545.1 421.0,541.2 428.4,545.1 421.0,549.0"/>
<ellipse cx="279.6" cy="566.5" rx="5.0" ry="2.75"/>
<ellipse cx="226.4" cy="542.2" rx="0.75" ry="0.75"/>
<ellipse cx="370.7" cy="557.2" rx="3.5" ry="1.75"/>
<polygon stroke="#000" stroke-width="1.2" stroke-linejoin="round" points="532.4,558.1 536.5,556.0 540.6,558.1 536.5,560.2"/>
<ellipse cx="552.2" cy="572.4" rx="3.4" ry="1.9" fill="none" stroke="#000" stroke-width="1.2"/>
<polygon stroke="#000" stroke-width="1.2" stroke-linejoin="round" points="590.3,557.2 593.9,555.6 597.5,557.2 593.9,558.8"/>
<ellipse cx="627.0" cy="558.0" rx="4.0" ry="2.0"/>
<ellipse cx="594.0" cy="566.6" rx="1.5" ry="2.5"/>
<ellipse cx="632.6" cy="565.3" rx="1.5" ry="3.0"/>
<polygon stroke="#000" stroke-width="1.2" stroke-linejoin="round" points="548.7,572.2 552.3,570.6 555.9,572.2 552.3,573.8"/>
<polygon stroke="#000" stroke-width="1.2" stroke-linejoin="round" points="612.4,572.0 616.0,570.4 619.6,572.0 616.0,573.6"/>
<polygon stroke="#000" stroke-width="1.2" stroke-linejoin="round" points="589.8,578.8 596.4,575.7 603.0,578.8 596.4,581.9"/>
<polygon stroke="#000" stroke-width="1.2" stroke-linejoin="round" points="598.1,582.5 603.7,579.9 609.3,582.5 603.7,585.1"/>
<ellipse cx="616.5" cy="583.7" rx="2.5" ry="12.0"/>
<polygon stroke="#000" stroke-width="1.2" stroke-linejoin="round" points="626.4,578.3 633.0,575.7 639.6,578.3 633.0,580.9"/>
<polygon stroke="#000" stroke-width="1.2" stroke-linejoin="round" points="645.6,585.7 655.2,582.1 664.8,585.7 655.2,589.3"/>
<polygon stroke="#000" stroke-width="1.2" stroke-linejoin="round" points="658.4,585.5 662.0,582.9 665.6,585.5 662.0,588.1"/>
<ellipse cx="565.7" cy="586.2" rx="1.5" ry="2.0"/>
<ellipse cx="554.7" cy="589.3" rx="2.0" ry="1.5"/>
<polygon stroke="#000" stroke-width="1.2" stroke-linejoin="round" points="609.4,598.0 616.0,594.9 622.6,598.0 616.0,601.1"/>
<polygon stroke="#000" stroke-width="1.2" stroke-linejoin="round" points="561.6,598.4 568.2,596.3 574.8,598.4 568.2,600.5"/>
<polygon stroke="#000" stroke-width="1.2" stroke-linejoin="round" points="635.7,597.2 647.8,594.6 659.9,597.2 647.8,599.8"/>
<ellipse cx="632.6" cy="605.8" rx="1.5" ry="5.0"/>
<ellipse cx="640.5" cy="606.3" rx="0.9" ry="0.4" fill="none" stroke="#000" stroke-width="1.2"/>
<polygon stroke="#000" stroke-width="1.2" stroke-linejoin="round" points="606.0,615.0 610.6,611.4 615.2,615.0 610.6,618.6"/>
<polygon stroke="#000" stroke-width="1.2" stroke-linejoin="round" points="628.5,617.5 632.6,611.9 636.7,617.5 632.6,623.1"/>
<ellipse cx="632.6" cy="606.0" rx="1.25" ry="6.0"/>
<polygon stroke="#000" stroke-width="1.2" stroke-linejoin="round" points="347.4,615.2 354.0,611.1 360.6,615.2 354.0,619.3"/>
<ellipse cx="441.3" cy="649.9" rx="6.0" ry="4.5"/>
<ellipse cx="442.0" cy="598.0" rx="4.0" ry="2.0"/>
<ellipse cx="433.0" cy="660.0" rx="2.0" ry="1.75"/>
<polygon stroke="#000" stroke-width="1.2" stroke-linejoin="round" points="416.9,652.4 422.5,647.8 428.1,652.4 422.5,657.0"/>
<polygon stroke="#000" stroke-width="1.2" stroke-linejoin="round" points="414.1,687.0 420.7,682.9 427.3,687.0 420.7,691.1"/>
<ellipse cx="512.0" cy="585.7" rx="1.5" ry="3.0"/>
<polygon stroke="#000" stroke-width="1.2" stroke-linejoin="round" points="519.4,584.8 527.0,580.2 534.6,584.8 527.0,589.4"/>
<polygon stroke="#000" stroke-width="1.2" stroke-linejoin="round" points="531.7,585.7 536.3,582.1 540.9,585.7 536.3,589.3"/>
<polygon stroke="#000" stroke-width="1.2" stroke-linejoin="round" points="507.4,597.0 512.0,593.9 516.6,597.0 512.0,600.1"/>
<polygon stroke="#000" stroke-width="1.2" stroke-linejoin="round" points="518.6,596.0 523.2,592.4 527.8,596.0 523.2,599.6"/>
<polygon stroke="#000" stroke-width="1.2" stroke-linejoin="round" points="529.8,597.0 534.4,593.9 539.0,597.0 534.4,600.1"/>
<polygon stroke="#000" stroke-width="1.2" stroke-linejoin="round" points="541.4,597.0 545.0,594.9 548.6,597.0 545.0,599.1"/>
<polygon stroke="#000" stroke-width="1.2" stroke-linejoin="round" points="497.4,596.0 500.0,593.9 502.6,596.0 500.0,598.1"/>
<polygon stroke="#000" stroke-width="1.2" stroke-linejoin="round" points="537.4,586.0 540.0,583.4 542.6,586.0 540.0,588.6"/>
<ellipse cx="553.0" cy="572.7" rx="4.0" ry="2.5"/>
<ellipse cx="554.0" cy="589.5" rx="3.0" ry="2.0"/>
<polygon stroke="#000" stroke-width="1.2" stroke-linejoin="round" points="529.8,619.4 534.4,614.8 539.0,619.4 534.4,624.0"/>
<ellipse cx="534.0" cy="608.7" rx="0.9" ry="0.9" fill="none" stroke="#000" stroke-width="1.2"/>
<ellipse cx="496.2" cy="615.2" rx="1.9" ry="0.9" fill="none" stroke="#000" stroke-width="1.2"/>
<polygon stroke="#000" stroke-width="1.2" stroke-linejoin="round" points="604.8,614.7 609.4,611.1 614.0,614.7 609.4,618.3"/>
<ellipse cx="553.0" cy="647.3" rx="5.0" ry="3.0"/>
<polygon stroke="#000" stroke-width="1.2" stroke-linejoin="round" points="558.6,647.3 563.2,643.7 567.8,647.3 563.2,650.9"/>
<ellipse cx="636.4" cy="646.8" rx="4.0" ry="2.5"/>
<ellipse cx="491.3" cy="676.0" rx="4.0" ry="2.5"/>
<ellipse cx="645.4" cy="676.0" rx="4.5" ry="2.5"/>
<polygon stroke="#000" stroke-width="1.2" stroke-linejoin="round" points="467.9,651.1 478.5,645.0 489.1,651.1 478.5,657.2"/>
<polygon stroke="#000" stroke-width="1.2" stroke-linejoin="round" points="483.2,652.4 488.8,646.8 494.4,652.4 488.8,658.0"/>
<polygon stroke="#000" stroke-width="1.2" stroke-linejoin="round" points="476.8,695.9 486.4,690.3 496.0,695.9 486.4,701.5"/>
<polygon stroke="#000" stroke-width="1.2" stroke-linejoin="round" points="444.4,708.0 451.0,703.4 457.6,708.0 451.0,712.6"/>
<ellipse cx="423.0" cy="709.9" rx="5.0" ry="3.0"/>
<polygon stroke="#000" stroke-width="1.2" stroke-linejoin="round" points="390.3,718.3 402.4,712.7 414.5,718.3 402.4,723.9"/>
<polygon stroke="#000" stroke-width="1.2" stroke-linejoin="round" points="405.9,723.9 423.0,719.3 440.1,723.9 423.0,728.5"/>
<polygon stroke="#000" stroke-width="1.2" stroke-linejoin="round" points="433.1,723.0 439.7,718.4 446.3,723.0 439.7,727.6"/>
<polygon stroke="#000" stroke-width="1.2" stroke-linejoin="round" points="478.9,721.0 485.5,716.4 492.1,721.0 485.5,725.6"/>
<polygon stroke="#000" stroke-width="1.2" stroke-linejoin="round" points="452.7,724.8 460.3,719.2 467.9,724.8 460.3,730.4"/>
<polygon stroke="#000" stroke-width="1.2" stroke-linejoin="round" points="453.7,733.2 460.3,728.6 466.9,733.2 460.3,737.8"/>
<polygon stroke="#000" stroke-width="1.2" stroke-linejoin="round" points="394.9,733.2 401.5,728.6 408.1,733.2 401.5,737.8"/>
<polygon stroke="#000" stroke-width="1.2" stroke-linejoin="round" points="433.1,738.8 439.7,734.2 446.3,738.8 439.7,743.4"/>
<polygon stroke="#000" stroke-width="1.2" stroke-linejoin="round" points="483.4,738.8 492.0,734.2 500.6,738.8 492.0,743.4"/>
<polygon stroke="#000" stroke-width="1.2" stroke-linejoin="round" points="396.7,748.1 404.3,743.5 411.9,748.1 404.3,752.7"/>
<polygon stroke="#000" stroke-width="1.2" stroke-linejoin="round" points="412.5,746.3 420.1,741.7 427.7,746.3 420.1,750.9"/>
<polygon stroke="#000" stroke-width="1.2" stroke-linejoin="round" points="415.2,756.5 424.8,751.9 434.4,756.5 424.8,761.1"/>
<polygon stroke="#000" stroke-width="1.2" stroke-linejoin="round" points="432.6,762.1 447.2,753.5 461.8,762.1 447.2,770.7"/>
<polygon stroke="#000" stroke-width="1.2" stroke-linejoin="round" points="451.8,762.1 458.4,756.5 465.0,762.1 458.4,767.7"/>
<polygon stroke="#000" stroke-width="1.2" stroke-linejoin="round" points="391.3,763.4 398.9,758.8 406.5,763.4 398.9,768.0"/>
<polygon stroke="#000" stroke-width="1.2" stroke-linejoin="round" points="472.4,768.0 479.0,763.4 485.6,768.0 479.0,772.6"/>
<polygon stroke="#000" stroke-width="1.2" stroke-linejoin="round" points="500.2,768.7 508.8,764.1 517.4,768.7 508.8,773.3"/>
<ellipse cx="388.6" cy="775.0" rx="6.0" ry="2.5"/>
<ellipse cx="372.0" cy="785.3" rx="6.0" ry="2.5"/>
<ellipse cx="434.1" cy="784.6" rx="5.0" ry="3.0"/>
<polygon stroke="#000" stroke-width="1.2" stroke-linejoin="round" points="509.8,793.0 514.4,788.9 519.0,793.0 514.4,797.1"/>
<polygon stroke="#000" stroke-width="1.2" stroke-linejoin="round" points="509.3,803.2 513.9,799.6 518.5,803.2 513.9,806.8"/>
<ellipse cx="517.8" cy="812.2" rx="6.0" ry="3.0"/>
<polygon stroke="#000" stroke-width="1.2" stroke-linejoin="round" points="497.8,822.6 503.4,818.0 509.0,822.6 503.4,827.2"/>
<polygon stroke="#000" stroke-width="1.2" stroke-linejoin="round" points="489.9,836.6 495.0,832.0 500.1,836.6 495.0,841.2"/>
<polygon stroke="#000" stroke-width="1.2" stroke-linejoin="round" points="475.4,838.0 481.0,833.4 486.6,838.0 481.0,842.6"/>
<polygon stroke="#000" stroke-width="1.2" stroke-linejoin="round" points="460.4,853.4 467.0,849.8 473.6,853.4 467.0,857.0"/>
<polygon stroke="#000" stroke-width="1.2" stroke-linejoin="round" points="442.9,834.5 449.0,828.9 455.1,834.5 449.0,840.1"/>
<polygon stroke="#000" stroke-width="1.2" stroke-linejoin="round" points="461.1,853.9 465.7,850.3 470.3,853.9 465.7,857.5"/>
<polygon stroke="#000" stroke-width="1.2" stroke-linejoin="round" points="396.9,837.2 401.5,833.6 406.1,837.2 401.5,840.8"/>
<ellipse cx="422.2" cy="799.6" rx="1.25" ry="1.25"/>
<ellipse cx="433.4" cy="784.2" rx="4.5" ry="2.5"/>
<polygon stroke="#000" stroke-width="1.2" stroke-linejoin="round" points="601.2,859.2 606.8,855.6 612.4,859.2 606.8,862.8"/>
<polygon stroke="#000" stroke-width="1.2" stroke-linejoin="round" points="605.8,866.8 612.4,863.2 619.0,866.8 612.4,870.4"/>
<ellipse cx="294.7" cy="935.5" rx="5.0" ry="3.25"/>
<ellipse cx="277.4" cy="972.1" rx="5.5" ry="3.25"/>
<ellipse cx="458.7" cy="942.0" rx="5.0" ry="3.0"/>
<polygon stroke="#000" stroke-width="1.2" stroke-linejoin="round" points="688.4,711.3 695.0,708.4 701.6,711.3 695.0,714.1"/>
<ellipse cx="612.4" cy="782.2" rx="0.75" ry="0.75"/>
<ellipse cx="610.2" cy="805.2" rx="0.75" ry="0.75"/>
<ellipse cx="547.8" cy="980.5" rx="4.0" ry="2.25"/>
<ellipse cx="568.8" cy="980.5" rx="4.0" ry="2.25"/>
<ellipse cx="442.6" cy="648.6" rx="2.0" ry="2.0"/>
<polygon stroke="#000" stroke-width="1.2" stroke-linejoin="round" points="404.4,748.0 409.0,744.4 413.6,748.0 409.0,751.6"/>
<polygon stroke="#000" stroke-width="1.2" stroke-linejoin="round" points="410.4,760.0 415.0,756.4 419.6,760.0 415.0,763.6"/>
<polygon stroke="#000" stroke-width="1.2" stroke-linejoin="round" points="389.2,721.0 393.8,718.4 398.4,721.0 393.8,723.6"/>
<polygon stroke="#000" stroke-width="1.2" stroke-linejoin="round" points="387.9,728.8 392.5,726.2 397.1,728.8 392.5,731.4"/>
<polygon stroke="#000" stroke-width="1.2" stroke-linejoin="round" points="522.3,586.0 525.4,579.9 528.5,586.0 525.4,592.1"/>
<polygon stroke="#000" stroke-width="1.2" stroke-linejoin="round" points="531.5,586.0 536.6,579.9 541.7,586.0 536.6,592.1"/>
<ellipse cx="512.8" cy="586.0" rx="1.5" ry="3.5"/>
<ellipse cx="554.8" cy="588.8" rx="2.5" ry="2.0"/>
<ellipse cx="566.0" cy="586.0" rx="2.0" ry="2.0"/>
<polygon stroke="#000" stroke-width="1.2" stroke-linejoin="round" points="505.4,597.2 510.0,594.1 514.6,597.2 510.0,600.3"/>
<polygon stroke="#000" stroke-width="1.2" stroke-linejoin="round" points="515.4,597.2 521.0,593.6 526.6,597.2 521.0,600.8"/>
<polygon stroke="#000" stroke-width="1.2" stroke-linejoin="round" points="526.4,597.2 532.0,593.6 537.6,597.2 532.0,600.8"/>
<polygon stroke="#000" stroke-width="1.2" stroke-linejoin="round" points="538.4,597.2 543.0,594.6 547.6,597.2 543.0,599.8"/>
<polygon stroke="#000" stroke-width="1.2" stroke-linejoin="round" points="551.4,597.2 556.0,595.1 560.6,597.2 556.0,599.3"/>
<polygon stroke="#000" stroke-width="1.2" stroke-linejoin="round" points="562.4,597.2 568.0,595.1 573.6,597.2 568.0,599.3"/>
<polygon stroke="#000" stroke-width="1.2" stroke-linejoin="round" points="591.4,580.4 601.0,576.8 610.6,580.4 601.0,584.0"/>
<ellipse cx="616.5" cy="589.0" rx="3.5" ry="15.0"/>
<polygon stroke="#000" stroke-width="1.2" stroke-linejoin="round" points="626.7,577.6 633.3,574.5 639.9,577.6 633.3,580.7"/>
<polygon stroke="#000" stroke-width="1.2" stroke-linejoin="round" points="607.1,597.2 613.7,593.1 620.3,597.2 613.7,601.3"/>
<polygon stroke="#000" stroke-width="1.2" stroke-linejoin="round" points="631.4,597.2 636.0,594.6 640.6,597.2 636.0,599.8"/>
<polygon stroke="#000" stroke-width="1.2" stroke-linejoin="round" points="647.1,586.0 655.7,581.9 664.3,586.0 655.7,590.1"/>
<polygon stroke="#000" stroke-width="1.2" stroke-linejoin="round" points="642.4,597.2 653.0,594.1 663.6,597.2 653.0,600.3"/>
<polygon stroke="#000" stroke-width="1.2" stroke-linejoin="round" points="641.4,586.5 645.0,584.4 648.6,586.5 645.0,588.6"/>
</g>
<path d="M537,982 L537,974 L580,974 L580,982" fill="none" stroke="#000" stroke-width="1.6"/>
</svg>
</body></html>
